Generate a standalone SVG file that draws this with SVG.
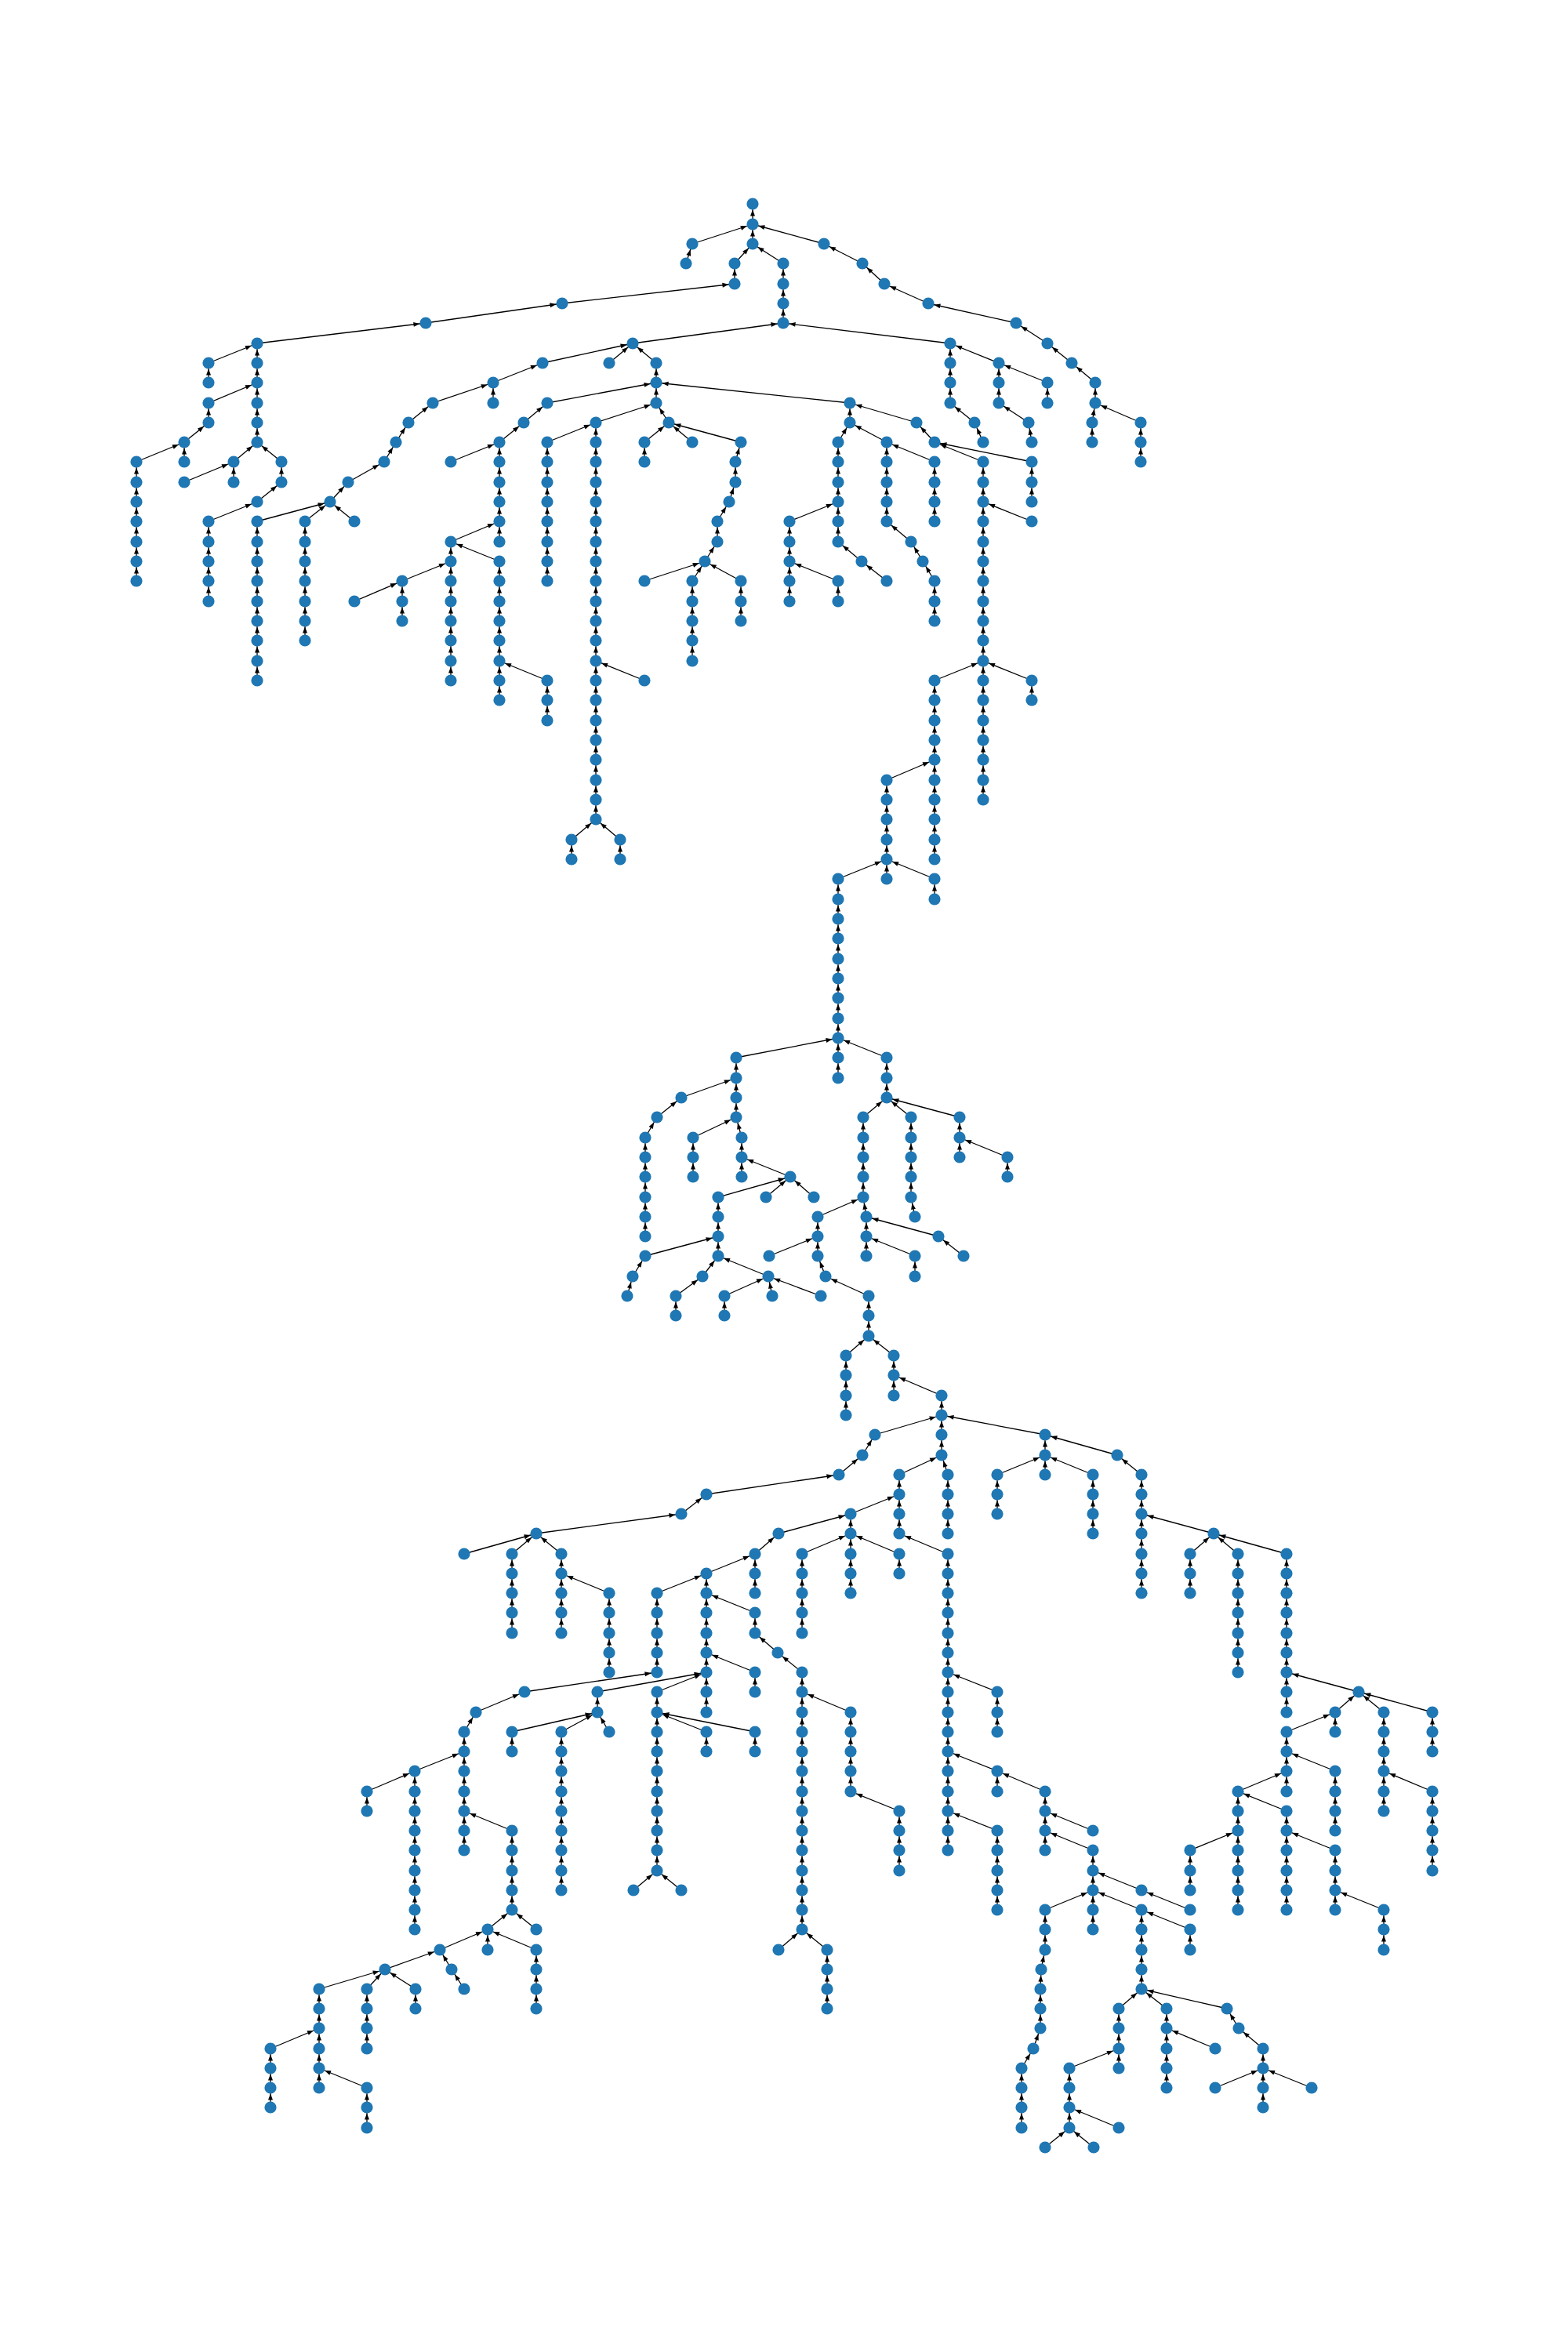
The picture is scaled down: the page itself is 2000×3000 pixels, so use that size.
<svg xmlns="http://www.w3.org/2000/svg" width="2000" height="3000" viewBox="0 0 2000 3000">
<style>
#edges line{stroke:#000;stroke-width:1.3;marker-end:url(#a)}
#nodes circle{fill:#1f77b4}
</style>
<defs>
<marker id="a" markerUnits="userSpaceOnUse" markerWidth="1" markerHeight="1" refX="0" refY="0" orient="auto" overflow="visible"><path d="M-15.6,-3 L-7.6,0 L-15.6,3 z" fill="#000"/></marker>
</defs>
<rect width="2000" height="3000" fill="#fff"/>
<g id="edges">
<line x1="960" y1="286" x2="960" y2="260"/>
<line x1="883" y1="311" x2="960" y2="286"/>
<line x1="960" y1="311" x2="960" y2="286"/>
<line x1="1051" y1="311" x2="960" y2="286"/>
<line x1="875" y1="336" x2="883" y2="311"/>
<line x1="937" y1="336" x2="960" y2="311"/>
<line x1="999" y1="336" x2="960" y2="311"/>
<line x1="937" y1="362" x2="937" y2="336"/>
<line x1="717" y1="387" x2="937" y2="362"/>
<line x1="543" y1="412" x2="717" y2="387"/>
<line x1="328" y1="438" x2="543" y2="412"/>
<line x1="999" y1="362" x2="999" y2="336"/>
<line x1="999" y1="387" x2="999" y2="362"/>
<line x1="999" y1="412" x2="999" y2="387"/>
<line x1="807" y1="438" x2="999" y2="412"/>
<line x1="1212" y1="438" x2="999" y2="412"/>
<line x1="266" y1="463" x2="328" y2="438"/>
<line x1="266" y1="488" x2="266" y2="463"/>
<line x1="328" y1="463" x2="328" y2="438"/>
<line x1="328" y1="488" x2="328" y2="463"/>
<line x1="266" y1="514" x2="328" y2="488"/>
<line x1="266" y1="539" x2="266" y2="514"/>
<line x1="235" y1="564" x2="266" y2="539"/>
<line x1="235" y1="589" x2="235" y2="564"/>
<line x1="174" y1="589" x2="235" y2="564"/>
<line x1="174" y1="615" x2="174" y2="589"/>
<line x1="174" y1="640" x2="174" y2="615"/>
<line x1="174" y1="665" x2="174" y2="640"/>
<line x1="174" y1="691" x2="174" y2="665"/>
<line x1="174" y1="716" x2="174" y2="691"/>
<line x1="174" y1="741" x2="174" y2="716"/>
<line x1="328" y1="514" x2="328" y2="488"/>
<line x1="328" y1="539" x2="328" y2="514"/>
<line x1="328" y1="564" x2="328" y2="539"/>
<line x1="298" y1="589" x2="328" y2="564"/>
<line x1="359" y1="589" x2="328" y2="564"/>
<line x1="298" y1="615" x2="298" y2="589"/>
<line x1="235" y1="615" x2="298" y2="589"/>
<line x1="359" y1="615" x2="359" y2="589"/>
<line x1="328" y1="640" x2="359" y2="615"/>
<line x1="266" y1="665" x2="328" y2="640"/>
<line x1="266" y1="691" x2="266" y2="665"/>
<line x1="266" y1="716" x2="266" y2="691"/>
<line x1="266" y1="741" x2="266" y2="716"/>
<line x1="266" y1="767" x2="266" y2="741"/>
<line x1="692" y1="463" x2="807" y2="438"/>
<line x1="629" y1="488" x2="692" y2="463"/>
<line x1="629" y1="514" x2="629" y2="488"/>
<line x1="552" y1="514" x2="629" y2="488"/>
<line x1="521" y1="539" x2="552" y2="514"/>
<line x1="505" y1="564" x2="521" y2="539"/>
<line x1="490" y1="589" x2="505" y2="564"/>
<line x1="444" y1="615" x2="490" y2="589"/>
<line x1="421" y1="640" x2="444" y2="615"/>
<line x1="328" y1="665" x2="421" y2="640"/>
<line x1="328" y1="691" x2="328" y2="665"/>
<line x1="328" y1="716" x2="328" y2="691"/>
<line x1="328" y1="741" x2="328" y2="716"/>
<line x1="328" y1="767" x2="328" y2="741"/>
<line x1="328" y1="792" x2="328" y2="767"/>
<line x1="328" y1="817" x2="328" y2="792"/>
<line x1="328" y1="843" x2="328" y2="817"/>
<line x1="328" y1="868" x2="328" y2="843"/>
<line x1="389" y1="665" x2="421" y2="640"/>
<line x1="389" y1="691" x2="389" y2="665"/>
<line x1="389" y1="716" x2="389" y2="691"/>
<line x1="389" y1="741" x2="389" y2="716"/>
<line x1="389" y1="767" x2="389" y2="741"/>
<line x1="389" y1="792" x2="389" y2="767"/>
<line x1="389" y1="817" x2="389" y2="792"/>
<line x1="452" y1="665" x2="421" y2="640"/>
<line x1="777" y1="463" x2="807" y2="438"/>
<line x1="837" y1="463" x2="807" y2="438"/>
<line x1="837" y1="488" x2="837" y2="463"/>
<line x1="698" y1="514" x2="837" y2="488"/>
<line x1="668" y1="539" x2="698" y2="514"/>
<line x1="637" y1="564" x2="668" y2="539"/>
<line x1="575" y1="589" x2="637" y2="564"/>
<line x1="637" y1="589" x2="637" y2="564"/>
<line x1="637" y1="615" x2="637" y2="589"/>
<line x1="637" y1="640" x2="637" y2="615"/>
<line x1="637" y1="665" x2="637" y2="640"/>
<line x1="637" y1="691" x2="637" y2="665"/>
<line x1="575" y1="691" x2="637" y2="665"/>
<line x1="575" y1="716" x2="575" y2="691"/>
<line x1="575" y1="741" x2="575" y2="716"/>
<line x1="575" y1="767" x2="575" y2="741"/>
<line x1="575" y1="792" x2="575" y2="767"/>
<line x1="575" y1="817" x2="575" y2="792"/>
<line x1="575" y1="843" x2="575" y2="817"/>
<line x1="575" y1="868" x2="575" y2="843"/>
<line x1="513" y1="741" x2="575" y2="716"/>
<line x1="513" y1="767" x2="513" y2="741"/>
<line x1="513" y1="792" x2="513" y2="767"/>
<line x1="452" y1="767" x2="513" y2="741"/>
<line x1="637" y1="716" x2="575" y2="691"/>
<line x1="637" y1="741" x2="637" y2="716"/>
<line x1="637" y1="767" x2="637" y2="741"/>
<line x1="637" y1="792" x2="637" y2="767"/>
<line x1="637" y1="817" x2="637" y2="792"/>
<line x1="637" y1="843" x2="637" y2="817"/>
<line x1="637" y1="868" x2="637" y2="843"/>
<line x1="637" y1="893" x2="637" y2="868"/>
<line x1="698" y1="868" x2="637" y2="843"/>
<line x1="698" y1="893" x2="698" y2="868"/>
<line x1="698" y1="919" x2="698" y2="893"/>
<line x1="837" y1="514" x2="837" y2="488"/>
<line x1="760" y1="539" x2="837" y2="514"/>
<line x1="853" y1="539" x2="837" y2="514"/>
<line x1="698" y1="564" x2="760" y2="539"/>
<line x1="698" y1="589" x2="698" y2="564"/>
<line x1="698" y1="615" x2="698" y2="589"/>
<line x1="698" y1="640" x2="698" y2="615"/>
<line x1="698" y1="665" x2="698" y2="640"/>
<line x1="698" y1="691" x2="698" y2="665"/>
<line x1="698" y1="716" x2="698" y2="691"/>
<line x1="698" y1="741" x2="698" y2="716"/>
<line x1="760" y1="564" x2="760" y2="539"/>
<line x1="760" y1="589" x2="760" y2="564"/>
<line x1="760" y1="615" x2="760" y2="589"/>
<line x1="760" y1="640" x2="760" y2="615"/>
<line x1="760" y1="665" x2="760" y2="640"/>
<line x1="760" y1="691" x2="760" y2="665"/>
<line x1="760" y1="716" x2="760" y2="691"/>
<line x1="760" y1="741" x2="760" y2="716"/>
<line x1="760" y1="767" x2="760" y2="741"/>
<line x1="760" y1="792" x2="760" y2="767"/>
<line x1="760" y1="817" x2="760" y2="792"/>
<line x1="760" y1="843" x2="760" y2="817"/>
<line x1="760" y1="868" x2="760" y2="843"/>
<line x1="760" y1="893" x2="760" y2="868"/>
<line x1="760" y1="919" x2="760" y2="893"/>
<line x1="760" y1="944" x2="760" y2="919"/>
<line x1="760" y1="969" x2="760" y2="944"/>
<line x1="760" y1="995" x2="760" y2="969"/>
<line x1="760" y1="1020" x2="760" y2="995"/>
<line x1="760" y1="1045" x2="760" y2="1020"/>
<line x1="822" y1="868" x2="760" y2="843"/>
<line x1="729" y1="1071" x2="760" y2="1045"/>
<line x1="729" y1="1096" x2="729" y2="1071"/>
<line x1="791" y1="1071" x2="760" y2="1045"/>
<line x1="791" y1="1096" x2="791" y2="1071"/>
<line x1="822" y1="564" x2="853" y2="539"/>
<line x1="822" y1="589" x2="822" y2="564"/>
<line x1="883" y1="564" x2="853" y2="539"/>
<line x1="945" y1="564" x2="853" y2="539"/>
<line x1="938" y1="589" x2="945" y2="564"/>
<line x1="938" y1="615" x2="938" y2="589"/>
<line x1="930" y1="640" x2="938" y2="615"/>
<line x1="915" y1="665" x2="930" y2="640"/>
<line x1="915" y1="691" x2="915" y2="665"/>
<line x1="899" y1="716" x2="915" y2="691"/>
<line x1="822" y1="741" x2="899" y2="716"/>
<line x1="883" y1="741" x2="899" y2="716"/>
<line x1="883" y1="767" x2="883" y2="741"/>
<line x1="883" y1="792" x2="883" y2="767"/>
<line x1="883" y1="817" x2="883" y2="792"/>
<line x1="883" y1="843" x2="883" y2="817"/>
<line x1="945" y1="741" x2="899" y2="716"/>
<line x1="945" y1="767" x2="945" y2="741"/>
<line x1="945" y1="792" x2="945" y2="767"/>
<line x1="1084" y1="514" x2="837" y2="488"/>
<line x1="1084" y1="539" x2="1084" y2="514"/>
<line x1="1169" y1="539" x2="1084" y2="514"/>
<line x1="1069" y1="564" x2="1084" y2="539"/>
<line x1="1131" y1="564" x2="1084" y2="539"/>
<line x1="1069" y1="589" x2="1069" y2="564"/>
<line x1="1069" y1="615" x2="1069" y2="589"/>
<line x1="1069" y1="640" x2="1069" y2="615"/>
<line x1="1069" y1="665" x2="1069" y2="640"/>
<line x1="1069" y1="691" x2="1069" y2="665"/>
<line x1="1099" y1="716" x2="1069" y2="691"/>
<line x1="1131" y1="741" x2="1099" y2="716"/>
<line x1="1007" y1="665" x2="1069" y2="640"/>
<line x1="1007" y1="691" x2="1007" y2="665"/>
<line x1="1007" y1="716" x2="1007" y2="691"/>
<line x1="1007" y1="741" x2="1007" y2="716"/>
<line x1="1007" y1="767" x2="1007" y2="741"/>
<line x1="1069" y1="741" x2="1007" y2="716"/>
<line x1="1069" y1="767" x2="1069" y2="741"/>
<line x1="1131" y1="589" x2="1131" y2="564"/>
<line x1="1131" y1="615" x2="1131" y2="589"/>
<line x1="1131" y1="640" x2="1131" y2="615"/>
<line x1="1131" y1="665" x2="1131" y2="640"/>
<line x1="1162" y1="691" x2="1131" y2="665"/>
<line x1="1177" y1="716" x2="1162" y2="691"/>
<line x1="1192" y1="741" x2="1177" y2="716"/>
<line x1="1192" y1="767" x2="1192" y2="741"/>
<line x1="1192" y1="792" x2="1192" y2="767"/>
<line x1="1192" y1="589" x2="1131" y2="564"/>
<line x1="1192" y1="615" x2="1192" y2="589"/>
<line x1="1192" y1="640" x2="1192" y2="615"/>
<line x1="1192" y1="665" x2="1192" y2="640"/>
<line x1="1192" y1="564" x2="1169" y2="539"/>
<line x1="1254" y1="589" x2="1192" y2="564"/>
<line x1="1316" y1="589" x2="1192" y2="564"/>
<line x1="1316" y1="615" x2="1316" y2="589"/>
<line x1="1316" y1="640" x2="1316" y2="615"/>
<line x1="1254" y1="615" x2="1254" y2="589"/>
<line x1="1254" y1="640" x2="1254" y2="615"/>
<line x1="1316" y1="665" x2="1254" y2="640"/>
<line x1="1254" y1="665" x2="1254" y2="640"/>
<line x1="1254" y1="691" x2="1254" y2="665"/>
<line x1="1254" y1="716" x2="1254" y2="691"/>
<line x1="1254" y1="741" x2="1254" y2="716"/>
<line x1="1254" y1="767" x2="1254" y2="741"/>
<line x1="1254" y1="792" x2="1254" y2="767"/>
<line x1="1254" y1="817" x2="1254" y2="792"/>
<line x1="1254" y1="843" x2="1254" y2="817"/>
<line x1="1192" y1="868" x2="1254" y2="843"/>
<line x1="1254" y1="868" x2="1254" y2="843"/>
<line x1="1316" y1="868" x2="1254" y2="843"/>
<line x1="1316" y1="893" x2="1316" y2="868"/>
<line x1="1254" y1="893" x2="1254" y2="868"/>
<line x1="1254" y1="919" x2="1254" y2="893"/>
<line x1="1254" y1="944" x2="1254" y2="919"/>
<line x1="1254" y1="969" x2="1254" y2="944"/>
<line x1="1254" y1="995" x2="1254" y2="969"/>
<line x1="1254" y1="1020" x2="1254" y2="995"/>
<line x1="1192" y1="893" x2="1192" y2="868"/>
<line x1="1192" y1="919" x2="1192" y2="893"/>
<line x1="1192" y1="944" x2="1192" y2="919"/>
<line x1="1192" y1="969" x2="1192" y2="944"/>
<line x1="1192" y1="995" x2="1192" y2="969"/>
<line x1="1192" y1="1020" x2="1192" y2="995"/>
<line x1="1192" y1="1045" x2="1192" y2="1020"/>
<line x1="1192" y1="1071" x2="1192" y2="1045"/>
<line x1="1192" y1="1096" x2="1192" y2="1071"/>
<line x1="1131" y1="995" x2="1192" y2="969"/>
<line x1="1131" y1="1020" x2="1131" y2="995"/>
<line x1="1131" y1="1045" x2="1131" y2="1020"/>
<line x1="1131" y1="1071" x2="1131" y2="1045"/>
<line x1="1131" y1="1096" x2="1131" y2="1071"/>
<line x1="1069" y1="1121" x2="1131" y2="1096"/>
<line x1="1131" y1="1121" x2="1131" y2="1096"/>
<line x1="1192" y1="1121" x2="1131" y2="1096"/>
<line x1="1192" y1="1147" x2="1192" y2="1121"/>
<line x1="1069" y1="1147" x2="1069" y2="1121"/>
<line x1="1069" y1="1172" x2="1069" y2="1147"/>
<line x1="1069" y1="1197" x2="1069" y2="1172"/>
<line x1="1069" y1="1223" x2="1069" y2="1197"/>
<line x1="1069" y1="1248" x2="1069" y2="1223"/>
<line x1="1069" y1="1273" x2="1069" y2="1248"/>
<line x1="1069" y1="1299" x2="1069" y2="1273"/>
<line x1="1069" y1="1324" x2="1069" y2="1299"/>
<line x1="1212" y1="463" x2="1212" y2="438"/>
<line x1="1212" y1="488" x2="1212" y2="463"/>
<line x1="1212" y1="514" x2="1212" y2="488"/>
<line x1="1243" y1="539" x2="1212" y2="514"/>
<line x1="1254" y1="564" x2="1243" y2="539"/>
<line x1="1274" y1="463" x2="1212" y2="438"/>
<line x1="1274" y1="488" x2="1274" y2="463"/>
<line x1="1274" y1="514" x2="1274" y2="488"/>
<line x1="1312" y1="539" x2="1274" y2="514"/>
<line x1="1316" y1="564" x2="1312" y2="539"/>
<line x1="1336" y1="488" x2="1274" y2="463"/>
<line x1="1336" y1="514" x2="1336" y2="488"/>
<line x1="1100" y1="336" x2="1051" y2="311"/>
<line x1="1128" y1="362" x2="1100" y2="336"/>
<line x1="1184" y1="387" x2="1128" y2="362"/>
<line x1="1296" y1="412" x2="1184" y2="387"/>
<line x1="1336" y1="438" x2="1296" y2="412"/>
<line x1="1367" y1="463" x2="1336" y2="438"/>
<line x1="1397" y1="488" x2="1367" y2="463"/>
<line x1="1397" y1="514" x2="1397" y2="488"/>
<line x1="1393" y1="539" x2="1397" y2="514"/>
<line x1="1393" y1="564" x2="1393" y2="539"/>
<line x1="1455" y1="539" x2="1397" y2="514"/>
<line x1="1455" y1="564" x2="1455" y2="539"/>
<line x1="1455" y1="589" x2="1455" y2="564"/>
<line x1="939" y1="1349" x2="1069" y2="1324"/>
<line x1="1069" y1="1349" x2="1069" y2="1324"/>
<line x1="1069" y1="1375" x2="1069" y2="1349"/>
<line x1="1131" y1="1349" x2="1069" y2="1324"/>
<line x1="1131" y1="1375" x2="1131" y2="1349"/>
<line x1="1131" y1="1400" x2="1131" y2="1375"/>
<line x1="939" y1="1375" x2="939" y2="1349"/>
<line x1="939" y1="1400" x2="939" y2="1375"/>
<line x1="939" y1="1425" x2="939" y2="1400"/>
<line x1="869" y1="1400" x2="939" y2="1375"/>
<line x1="838" y1="1425" x2="869" y2="1400"/>
<line x1="823" y1="1451" x2="838" y2="1425"/>
<line x1="823" y1="1476" x2="823" y2="1451"/>
<line x1="823" y1="1501" x2="823" y2="1476"/>
<line x1="823" y1="1527" x2="823" y2="1501"/>
<line x1="823" y1="1552" x2="823" y2="1527"/>
<line x1="823" y1="1577" x2="823" y2="1552"/>
<line x1="884" y1="1451" x2="939" y2="1425"/>
<line x1="884" y1="1476" x2="884" y2="1451"/>
<line x1="884" y1="1501" x2="884" y2="1476"/>
<line x1="946" y1="1451" x2="939" y2="1425"/>
<line x1="946" y1="1476" x2="946" y2="1451"/>
<line x1="946" y1="1501" x2="946" y2="1476"/>
<line x1="1008" y1="1501" x2="946" y2="1476"/>
<line x1="916" y1="1527" x2="1008" y2="1501"/>
<line x1="916" y1="1552" x2="916" y2="1527"/>
<line x1="916" y1="1577" x2="916" y2="1552"/>
<line x1="916" y1="1602" x2="916" y2="1577"/>
<line x1="823" y1="1602" x2="916" y2="1577"/>
<line x1="807" y1="1628" x2="823" y2="1602"/>
<line x1="800" y1="1653" x2="807" y2="1628"/>
<line x1="896" y1="1628" x2="916" y2="1602"/>
<line x1="862" y1="1653" x2="896" y2="1628"/>
<line x1="862" y1="1678" x2="862" y2="1653"/>
<line x1="980" y1="1628" x2="916" y2="1602"/>
<line x1="924" y1="1653" x2="980" y2="1628"/>
<line x1="924" y1="1678" x2="924" y2="1653"/>
<line x1="985" y1="1653" x2="980" y2="1628"/>
<line x1="1047" y1="1653" x2="980" y2="1628"/>
<line x1="977" y1="1527" x2="1008" y2="1501"/>
<line x1="1038" y1="1527" x2="1008" y2="1501"/>
<line x1="1101" y1="1425" x2="1131" y2="1400"/>
<line x1="1101" y1="1451" x2="1101" y2="1425"/>
<line x1="1101" y1="1476" x2="1101" y2="1451"/>
<line x1="1101" y1="1501" x2="1101" y2="1476"/>
<line x1="1101" y1="1527" x2="1101" y2="1501"/>
<line x1="1162" y1="1425" x2="1131" y2="1400"/>
<line x1="1162" y1="1451" x2="1162" y2="1425"/>
<line x1="1162" y1="1476" x2="1162" y2="1451"/>
<line x1="1162" y1="1501" x2="1162" y2="1476"/>
<line x1="1162" y1="1527" x2="1162" y2="1501"/>
<line x1="1167" y1="1552" x2="1162" y2="1527"/>
<line x1="1224" y1="1425" x2="1131" y2="1400"/>
<line x1="1224" y1="1451" x2="1224" y2="1425"/>
<line x1="1224" y1="1476" x2="1224" y2="1451"/>
<line x1="1285" y1="1476" x2="1224" y2="1451"/>
<line x1="1285" y1="1501" x2="1285" y2="1476"/>
<line x1="1105" y1="1552" x2="1101" y2="1527"/>
<line x1="1105" y1="1577" x2="1105" y2="1552"/>
<line x1="1105" y1="1602" x2="1105" y2="1577"/>
<line x1="1167" y1="1602" x2="1105" y2="1577"/>
<line x1="1167" y1="1628" x2="1167" y2="1602"/>
<line x1="1197" y1="1577" x2="1105" y2="1552"/>
<line x1="1229" y1="1602" x2="1197" y2="1577"/>
<line x1="1043" y1="1552" x2="1101" y2="1527"/>
<line x1="1043" y1="1577" x2="1043" y2="1552"/>
<line x1="1043" y1="1602" x2="1043" y2="1577"/>
<line x1="981" y1="1602" x2="1043" y2="1577"/>
<line x1="1053" y1="1628" x2="1043" y2="1602"/>
<line x1="1108" y1="1653" x2="1053" y2="1628"/>
<line x1="1108" y1="1678" x2="1108" y2="1653"/>
<line x1="1108" y1="1704" x2="1108" y2="1678"/>
<line x1="1079" y1="1729" x2="1108" y2="1704"/>
<line x1="1079" y1="1754" x2="1079" y2="1729"/>
<line x1="1079" y1="1780" x2="1079" y2="1754"/>
<line x1="1079" y1="1805" x2="1079" y2="1780"/>
<line x1="1140" y1="1729" x2="1108" y2="1704"/>
<line x1="1140" y1="1754" x2="1140" y2="1729"/>
<line x1="1140" y1="1780" x2="1140" y2="1754"/>
<line x1="1201" y1="1780" x2="1140" y2="1754"/>
<line x1="1201" y1="1805" x2="1201" y2="1780"/>
<line x1="1116" y1="1830" x2="1201" y2="1805"/>
<line x1="1100" y1="1856" x2="1116" y2="1830"/>
<line x1="1070" y1="1881" x2="1100" y2="1856"/>
<line x1="901" y1="1906" x2="1070" y2="1881"/>
<line x1="869" y1="1931" x2="901" y2="1906"/>
<line x1="684" y1="1956" x2="869" y2="1931"/>
<line x1="592" y1="1982" x2="684" y2="1956"/>
<line x1="653" y1="1982" x2="684" y2="1956"/>
<line x1="653" y1="2007" x2="653" y2="1982"/>
<line x1="653" y1="2032" x2="653" y2="2007"/>
<line x1="653" y1="2057" x2="653" y2="2032"/>
<line x1="653" y1="2083" x2="653" y2="2057"/>
<line x1="716" y1="1982" x2="684" y2="1956"/>
<line x1="716" y1="2007" x2="716" y2="1982"/>
<line x1="716" y1="2032" x2="716" y2="2007"/>
<line x1="716" y1="2057" x2="716" y2="2032"/>
<line x1="716" y1="2083" x2="716" y2="2057"/>
<line x1="777" y1="2032" x2="716" y2="2007"/>
<line x1="777" y1="2057" x2="777" y2="2032"/>
<line x1="777" y1="2083" x2="777" y2="2057"/>
<line x1="777" y1="2108" x2="777" y2="2083"/>
<line x1="777" y1="2133" x2="777" y2="2108"/>
<line x1="1201" y1="1830" x2="1201" y2="1805"/>
<line x1="1201" y1="1856" x2="1201" y2="1830"/>
<line x1="1147" y1="1881" x2="1201" y2="1856"/>
<line x1="1147" y1="1906" x2="1147" y2="1881"/>
<line x1="1147" y1="1931" x2="1147" y2="1906"/>
<line x1="1147" y1="1956" x2="1147" y2="1931"/>
<line x1="1209" y1="1881" x2="1201" y2="1856"/>
<line x1="1209" y1="1906" x2="1209" y2="1881"/>
<line x1="1209" y1="1931" x2="1209" y2="1906"/>
<line x1="1209" y1="1956" x2="1209" y2="1931"/>
<line x1="1085" y1="1931" x2="1147" y2="1906"/>
<line x1="1085" y1="1956" x2="1085" y2="1931"/>
<line x1="1085" y1="1982" x2="1085" y2="1956"/>
<line x1="1085" y1="2007" x2="1085" y2="1982"/>
<line x1="1085" y1="2032" x2="1085" y2="2007"/>
<line x1="993" y1="1956" x2="1085" y2="1931"/>
<line x1="1023" y1="1982" x2="1085" y2="1956"/>
<line x1="1023" y1="2007" x2="1023" y2="1982"/>
<line x1="1023" y1="2032" x2="1023" y2="2007"/>
<line x1="1023" y1="2057" x2="1023" y2="2032"/>
<line x1="1023" y1="2083" x2="1023" y2="2057"/>
<line x1="1147" y1="1982" x2="1085" y2="1956"/>
<line x1="1147" y1="2007" x2="1147" y2="1982"/>
<line x1="963" y1="1982" x2="993" y2="1956"/>
<line x1="963" y1="2007" x2="963" y2="1982"/>
<line x1="963" y1="2032" x2="963" y2="2007"/>
<line x1="901" y1="2007" x2="963" y2="1982"/>
<line x1="901" y1="2032" x2="901" y2="2007"/>
<line x1="901" y1="2057" x2="901" y2="2032"/>
<line x1="901" y1="2083" x2="901" y2="2057"/>
<line x1="901" y1="2108" x2="901" y2="2083"/>
<line x1="901" y1="2133" x2="901" y2="2108"/>
<line x1="901" y1="2158" x2="901" y2="2133"/>
<line x1="901" y1="2184" x2="901" y2="2158"/>
<line x1="838" y1="2032" x2="901" y2="2007"/>
<line x1="838" y1="2057" x2="838" y2="2032"/>
<line x1="838" y1="2083" x2="838" y2="2057"/>
<line x1="838" y1="2108" x2="838" y2="2083"/>
<line x1="838" y1="2133" x2="838" y2="2108"/>
<line x1="963" y1="2057" x2="901" y2="2032"/>
<line x1="963" y1="2083" x2="963" y2="2057"/>
<line x1="992" y1="2108" x2="963" y2="2083"/>
<line x1="1023" y1="2133" x2="992" y2="2108"/>
<line x1="1023" y1="2158" x2="1023" y2="2133"/>
<line x1="1023" y1="2184" x2="1023" y2="2158"/>
<line x1="1023" y1="2209" x2="1023" y2="2184"/>
<line x1="1023" y1="2234" x2="1023" y2="2209"/>
<line x1="1023" y1="2259" x2="1023" y2="2234"/>
<line x1="1023" y1="2285" x2="1023" y2="2259"/>
<line x1="1023" y1="2310" x2="1023" y2="2285"/>
<line x1="1023" y1="2335" x2="1023" y2="2310"/>
<line x1="1023" y1="2360" x2="1023" y2="2335"/>
<line x1="1023" y1="2386" x2="1023" y2="2360"/>
<line x1="1023" y1="2411" x2="1023" y2="2386"/>
<line x1="1023" y1="2436" x2="1023" y2="2411"/>
<line x1="1023" y1="2461" x2="1023" y2="2436"/>
<line x1="963" y1="2133" x2="901" y2="2108"/>
<line x1="963" y1="2158" x2="963" y2="2133"/>
<line x1="838" y1="2158" x2="901" y2="2133"/>
<line x1="838" y1="2184" x2="838" y2="2158"/>
<line x1="838" y1="2209" x2="838" y2="2184"/>
<line x1="838" y1="2234" x2="838" y2="2209"/>
<line x1="838" y1="2259" x2="838" y2="2234"/>
<line x1="838" y1="2285" x2="838" y2="2259"/>
<line x1="838" y1="2310" x2="838" y2="2285"/>
<line x1="838" y1="2335" x2="838" y2="2310"/>
<line x1="838" y1="2360" x2="838" y2="2335"/>
<line x1="838" y1="2386" x2="838" y2="2360"/>
<line x1="762" y1="2158" x2="901" y2="2133"/>
<line x1="762" y1="2184" x2="762" y2="2158"/>
<line x1="901" y1="2209" x2="838" y2="2184"/>
<line x1="901" y1="2234" x2="901" y2="2209"/>
<line x1="963" y1="2209" x2="838" y2="2184"/>
<line x1="963" y1="2234" x2="963" y2="2209"/>
<line x1="669" y1="2158" x2="838" y2="2133"/>
<line x1="607" y1="2184" x2="669" y2="2158"/>
<line x1="592" y1="2209" x2="607" y2="2184"/>
<line x1="592" y1="2234" x2="592" y2="2209"/>
<line x1="592" y1="2259" x2="592" y2="2234"/>
<line x1="592" y1="2285" x2="592" y2="2259"/>
<line x1="592" y1="2310" x2="592" y2="2285"/>
<line x1="592" y1="2335" x2="592" y2="2310"/>
<line x1="592" y1="2360" x2="592" y2="2335"/>
<line x1="529" y1="2259" x2="592" y2="2234"/>
<line x1="529" y1="2285" x2="529" y2="2259"/>
<line x1="529" y1="2310" x2="529" y2="2285"/>
<line x1="529" y1="2335" x2="529" y2="2310"/>
<line x1="529" y1="2360" x2="529" y2="2335"/>
<line x1="529" y1="2386" x2="529" y2="2360"/>
<line x1="529" y1="2411" x2="529" y2="2386"/>
<line x1="529" y1="2436" x2="529" y2="2411"/>
<line x1="529" y1="2461" x2="529" y2="2436"/>
<line x1="468" y1="2285" x2="529" y2="2259"/>
<line x1="468" y1="2310" x2="468" y2="2285"/>
<line x1="653" y1="2209" x2="762" y2="2184"/>
<line x1="653" y1="2234" x2="653" y2="2209"/>
<line x1="716" y1="2209" x2="762" y2="2184"/>
<line x1="716" y1="2234" x2="716" y2="2209"/>
<line x1="716" y1="2259" x2="716" y2="2234"/>
<line x1="716" y1="2285" x2="716" y2="2259"/>
<line x1="716" y1="2310" x2="716" y2="2285"/>
<line x1="716" y1="2335" x2="716" y2="2310"/>
<line x1="716" y1="2360" x2="716" y2="2335"/>
<line x1="716" y1="2386" x2="716" y2="2360"/>
<line x1="716" y1="2411" x2="716" y2="2386"/>
<line x1="777" y1="2209" x2="762" y2="2184"/>
<line x1="653" y1="2335" x2="592" y2="2310"/>
<line x1="653" y1="2360" x2="653" y2="2335"/>
<line x1="653" y1="2386" x2="653" y2="2360"/>
<line x1="653" y1="2411" x2="653" y2="2386"/>
<line x1="653" y1="2436" x2="653" y2="2411"/>
<line x1="622" y1="2461" x2="653" y2="2436"/>
<line x1="684" y1="2461" x2="653" y2="2436"/>
<line x1="561" y1="2487" x2="622" y2="2461"/>
<line x1="622" y1="2487" x2="622" y2="2461"/>
<line x1="684" y1="2487" x2="622" y2="2461"/>
<line x1="684" y1="2512" x2="684" y2="2487"/>
<line x1="684" y1="2537" x2="684" y2="2512"/>
<line x1="684" y1="2562" x2="684" y2="2537"/>
<line x1="491" y1="2512" x2="561" y2="2487"/>
<line x1="576" y1="2512" x2="561" y2="2487"/>
<line x1="592" y1="2537" x2="576" y2="2512"/>
<line x1="407" y1="2537" x2="491" y2="2512"/>
<line x1="407" y1="2562" x2="407" y2="2537"/>
<line x1="407" y1="2587" x2="407" y2="2562"/>
<line x1="407" y1="2613" x2="407" y2="2587"/>
<line x1="407" y1="2638" x2="407" y2="2613"/>
<line x1="407" y1="2663" x2="407" y2="2638"/>
<line x1="468" y1="2537" x2="491" y2="2512"/>
<line x1="468" y1="2562" x2="468" y2="2537"/>
<line x1="468" y1="2587" x2="468" y2="2562"/>
<line x1="468" y1="2613" x2="468" y2="2587"/>
<line x1="530" y1="2537" x2="491" y2="2512"/>
<line x1="530" y1="2562" x2="530" y2="2537"/>
<line x1="345" y1="2613" x2="407" y2="2587"/>
<line x1="345" y1="2638" x2="345" y2="2613"/>
<line x1="345" y1="2663" x2="345" y2="2638"/>
<line x1="345" y1="2688" x2="345" y2="2663"/>
<line x1="468" y1="2663" x2="407" y2="2638"/>
<line x1="468" y1="2688" x2="468" y2="2663"/>
<line x1="468" y1="2714" x2="468" y2="2688"/>
<line x1="808" y1="2411" x2="838" y2="2386"/>
<line x1="869" y1="2411" x2="838" y2="2386"/>
<line x1="993" y1="2487" x2="1023" y2="2461"/>
<line x1="1055" y1="2487" x2="1023" y2="2461"/>
<line x1="1055" y1="2512" x2="1055" y2="2487"/>
<line x1="1055" y1="2537" x2="1055" y2="2512"/>
<line x1="1055" y1="2562" x2="1055" y2="2537"/>
<line x1="1085" y1="2184" x2="1023" y2="2158"/>
<line x1="1085" y1="2209" x2="1085" y2="2184"/>
<line x1="1085" y1="2234" x2="1085" y2="2209"/>
<line x1="1085" y1="2259" x2="1085" y2="2234"/>
<line x1="1085" y1="2285" x2="1085" y2="2259"/>
<line x1="1147" y1="2310" x2="1085" y2="2285"/>
<line x1="1147" y1="2335" x2="1147" y2="2310"/>
<line x1="1147" y1="2360" x2="1147" y2="2335"/>
<line x1="1147" y1="2386" x2="1147" y2="2360"/>
<line x1="1209" y1="1982" x2="1147" y2="1956"/>
<line x1="1209" y1="2007" x2="1209" y2="1982"/>
<line x1="1209" y1="2032" x2="1209" y2="2007"/>
<line x1="1209" y1="2057" x2="1209" y2="2032"/>
<line x1="1209" y1="2083" x2="1209" y2="2057"/>
<line x1="1209" y1="2108" x2="1209" y2="2083"/>
<line x1="1209" y1="2133" x2="1209" y2="2108"/>
<line x1="1209" y1="2158" x2="1209" y2="2133"/>
<line x1="1209" y1="2184" x2="1209" y2="2158"/>
<line x1="1209" y1="2209" x2="1209" y2="2184"/>
<line x1="1209" y1="2234" x2="1209" y2="2209"/>
<line x1="1209" y1="2259" x2="1209" y2="2234"/>
<line x1="1209" y1="2285" x2="1209" y2="2259"/>
<line x1="1209" y1="2310" x2="1209" y2="2285"/>
<line x1="1209" y1="2335" x2="1209" y2="2310"/>
<line x1="1209" y1="2360" x2="1209" y2="2335"/>
<line x1="1272" y1="2158" x2="1209" y2="2133"/>
<line x1="1272" y1="2184" x2="1272" y2="2158"/>
<line x1="1272" y1="2209" x2="1272" y2="2184"/>
<line x1="1272" y1="2259" x2="1209" y2="2234"/>
<line x1="1272" y1="2285" x2="1272" y2="2259"/>
<line x1="1333" y1="2285" x2="1272" y2="2259"/>
<line x1="1333" y1="2310" x2="1333" y2="2285"/>
<line x1="1333" y1="2335" x2="1333" y2="2310"/>
<line x1="1333" y1="2360" x2="1333" y2="2335"/>
<line x1="1272" y1="2335" x2="1209" y2="2310"/>
<line x1="1272" y1="2360" x2="1272" y2="2335"/>
<line x1="1272" y1="2386" x2="1272" y2="2360"/>
<line x1="1272" y1="2411" x2="1272" y2="2386"/>
<line x1="1272" y1="2436" x2="1272" y2="2411"/>
<line x1="1333" y1="1830" x2="1201" y2="1805"/>
<line x1="1333" y1="1856" x2="1333" y2="1830"/>
<line x1="1333" y1="1881" x2="1333" y2="1856"/>
<line x1="1272" y1="1881" x2="1333" y2="1856"/>
<line x1="1272" y1="1906" x2="1272" y2="1881"/>
<line x1="1272" y1="1931" x2="1272" y2="1906"/>
<line x1="1425" y1="1856" x2="1333" y2="1830"/>
<line x1="1394" y1="1881" x2="1333" y2="1856"/>
<line x1="1394" y1="1906" x2="1394" y2="1881"/>
<line x1="1394" y1="1931" x2="1394" y2="1906"/>
<line x1="1394" y1="1956" x2="1394" y2="1931"/>
<line x1="1456" y1="1881" x2="1425" y2="1856"/>
<line x1="1456" y1="1906" x2="1456" y2="1881"/>
<line x1="1456" y1="1931" x2="1456" y2="1906"/>
<line x1="1456" y1="1956" x2="1456" y2="1931"/>
<line x1="1456" y1="1982" x2="1456" y2="1956"/>
<line x1="1456" y1="2007" x2="1456" y2="1982"/>
<line x1="1456" y1="2032" x2="1456" y2="2007"/>
<line x1="1548" y1="1956" x2="1456" y2="1931"/>
<line x1="1518" y1="1982" x2="1548" y2="1956"/>
<line x1="1518" y1="2007" x2="1518" y2="1982"/>
<line x1="1518" y1="2032" x2="1518" y2="2007"/>
<line x1="1579" y1="1982" x2="1548" y2="1956"/>
<line x1="1579" y1="2007" x2="1579" y2="1982"/>
<line x1="1579" y1="2032" x2="1579" y2="2007"/>
<line x1="1579" y1="2057" x2="1579" y2="2032"/>
<line x1="1579" y1="2083" x2="1579" y2="2057"/>
<line x1="1579" y1="2108" x2="1579" y2="2083"/>
<line x1="1579" y1="2133" x2="1579" y2="2108"/>
<line x1="1641" y1="1982" x2="1548" y2="1956"/>
<line x1="1641" y1="2007" x2="1641" y2="1982"/>
<line x1="1641" y1="2032" x2="1641" y2="2007"/>
<line x1="1641" y1="2057" x2="1641" y2="2032"/>
<line x1="1641" y1="2083" x2="1641" y2="2057"/>
<line x1="1641" y1="2108" x2="1641" y2="2083"/>
<line x1="1641" y1="2133" x2="1641" y2="2108"/>
<line x1="1641" y1="2158" x2="1641" y2="2133"/>
<line x1="1641" y1="2184" x2="1641" y2="2158"/>
<line x1="1733" y1="2158" x2="1641" y2="2133"/>
<line x1="1703" y1="2184" x2="1733" y2="2158"/>
<line x1="1703" y1="2209" x2="1703" y2="2184"/>
<line x1="1765" y1="2184" x2="1733" y2="2158"/>
<line x1="1765" y1="2209" x2="1765" y2="2184"/>
<line x1="1765" y1="2234" x2="1765" y2="2209"/>
<line x1="1765" y1="2259" x2="1765" y2="2234"/>
<line x1="1765" y1="2285" x2="1765" y2="2259"/>
<line x1="1765" y1="2310" x2="1765" y2="2285"/>
<line x1="1827" y1="2184" x2="1733" y2="2158"/>
<line x1="1827" y1="2209" x2="1827" y2="2184"/>
<line x1="1827" y1="2234" x2="1827" y2="2209"/>
<line x1="1641" y1="2209" x2="1703" y2="2184"/>
<line x1="1641" y1="2234" x2="1641" y2="2209"/>
<line x1="1641" y1="2259" x2="1641" y2="2234"/>
<line x1="1641" y1="2285" x2="1641" y2="2259"/>
<line x1="1703" y1="2259" x2="1641" y2="2234"/>
<line x1="1703" y1="2285" x2="1703" y2="2259"/>
<line x1="1703" y1="2310" x2="1703" y2="2285"/>
<line x1="1703" y1="2335" x2="1703" y2="2310"/>
<line x1="1579" y1="2285" x2="1641" y2="2259"/>
<line x1="1579" y1="2310" x2="1579" y2="2285"/>
<line x1="1579" y1="2335" x2="1579" y2="2310"/>
<line x1="1579" y1="2360" x2="1579" y2="2335"/>
<line x1="1579" y1="2386" x2="1579" y2="2360"/>
<line x1="1579" y1="2411" x2="1579" y2="2386"/>
<line x1="1579" y1="2436" x2="1579" y2="2411"/>
<line x1="1827" y1="2285" x2="1765" y2="2259"/>
<line x1="1827" y1="2310" x2="1827" y2="2285"/>
<line x1="1827" y1="2335" x2="1827" y2="2310"/>
<line x1="1827" y1="2360" x2="1827" y2="2335"/>
<line x1="1827" y1="2386" x2="1827" y2="2360"/>
<line x1="1641" y1="2310" x2="1579" y2="2285"/>
<line x1="1641" y1="2335" x2="1641" y2="2310"/>
<line x1="1641" y1="2360" x2="1641" y2="2335"/>
<line x1="1641" y1="2386" x2="1641" y2="2360"/>
<line x1="1641" y1="2411" x2="1641" y2="2386"/>
<line x1="1641" y1="2436" x2="1641" y2="2411"/>
<line x1="1703" y1="2360" x2="1641" y2="2335"/>
<line x1="1703" y1="2386" x2="1703" y2="2360"/>
<line x1="1703" y1="2411" x2="1703" y2="2386"/>
<line x1="1703" y1="2436" x2="1703" y2="2411"/>
<line x1="1765" y1="2436" x2="1703" y2="2411"/>
<line x1="1765" y1="2461" x2="1765" y2="2436"/>
<line x1="1765" y1="2487" x2="1765" y2="2461"/>
<line x1="1518" y1="2360" x2="1579" y2="2335"/>
<line x1="1518" y1="2386" x2="1518" y2="2360"/>
<line x1="1518" y1="2411" x2="1518" y2="2386"/>
<line x1="1394" y1="2335" x2="1333" y2="2310"/>
<line x1="1394" y1="2360" x2="1333" y2="2335"/>
<line x1="1394" y1="2386" x2="1394" y2="2360"/>
<line x1="1394" y1="2411" x2="1394" y2="2386"/>
<line x1="1394" y1="2436" x2="1394" y2="2411"/>
<line x1="1394" y1="2461" x2="1394" y2="2436"/>
<line x1="1456" y1="2411" x2="1394" y2="2386"/>
<line x1="1518" y1="2436" x2="1456" y2="2411"/>
<line x1="1456" y1="2436" x2="1394" y2="2411"/>
<line x1="1456" y1="2461" x2="1456" y2="2436"/>
<line x1="1456" y1="2487" x2="1456" y2="2461"/>
<line x1="1456" y1="2512" x2="1456" y2="2487"/>
<line x1="1456" y1="2537" x2="1456" y2="2512"/>
<line x1="1518" y1="2461" x2="1456" y2="2436"/>
<line x1="1518" y1="2487" x2="1518" y2="2461"/>
<line x1="1333" y1="2436" x2="1394" y2="2411"/>
<line x1="1333" y1="2461" x2="1333" y2="2436"/>
<line x1="1333" y1="2487" x2="1333" y2="2461"/>
<line x1="1328" y1="2512" x2="1333" y2="2487"/>
<line x1="1327" y1="2537" x2="1328" y2="2512"/>
<line x1="1327" y1="2562" x2="1327" y2="2537"/>
<line x1="1327" y1="2587" x2="1327" y2="2562"/>
<line x1="1318" y1="2613" x2="1327" y2="2587"/>
<line x1="1303" y1="2638" x2="1318" y2="2613"/>
<line x1="1303" y1="2663" x2="1303" y2="2638"/>
<line x1="1303" y1="2688" x2="1303" y2="2663"/>
<line x1="1303" y1="2714" x2="1303" y2="2688"/>
<line x1="1427" y1="2562" x2="1456" y2="2537"/>
<line x1="1427" y1="2587" x2="1427" y2="2562"/>
<line x1="1427" y1="2613" x2="1427" y2="2587"/>
<line x1="1427" y1="2638" x2="1427" y2="2613"/>
<line x1="1364" y1="2638" x2="1427" y2="2613"/>
<line x1="1364" y1="2663" x2="1364" y2="2638"/>
<line x1="1364" y1="2688" x2="1364" y2="2663"/>
<line x1="1364" y1="2714" x2="1364" y2="2688"/>
<line x1="1427" y1="2714" x2="1364" y2="2688"/>
<line x1="1395" y1="2739" x2="1364" y2="2714"/>
<line x1="1333" y1="2739" x2="1364" y2="2714"/>
<line x1="1488" y1="2562" x2="1456" y2="2537"/>
<line x1="1488" y1="2587" x2="1488" y2="2562"/>
<line x1="1488" y1="2613" x2="1488" y2="2587"/>
<line x1="1488" y1="2638" x2="1488" y2="2613"/>
<line x1="1488" y1="2663" x2="1488" y2="2638"/>
<line x1="1550" y1="2613" x2="1488" y2="2587"/>
<line x1="1565" y1="2562" x2="1456" y2="2537"/>
<line x1="1580" y1="2587" x2="1565" y2="2562"/>
<line x1="1611" y1="2613" x2="1580" y2="2587"/>
<line x1="1611" y1="2638" x2="1611" y2="2613"/>
<line x1="1611" y1="2663" x2="1611" y2="2638"/>
<line x1="1611" y1="2688" x2="1611" y2="2663"/>
<line x1="1550" y1="2663" x2="1611" y2="2638"/>
<line x1="1673" y1="2663" x2="1611" y2="2638"/>
</g>
<g id="nodes">
<g id="n0"><circle cx="960" cy="260" r="7.6"/></g>
<g id="n1"><circle cx="960" cy="286" r="7.6"/></g>
<g id="n2"><circle cx="883" cy="311" r="7.6"/></g>
<g id="n3"><circle cx="960" cy="311" r="7.6"/></g>
<g id="n4"><circle cx="1051" cy="311" r="7.6"/></g>
<g id="n5"><circle cx="875" cy="336" r="7.6"/></g>
<g id="n6"><circle cx="937" cy="336" r="7.6"/></g>
<g id="n7"><circle cx="999" cy="336" r="7.6"/></g>
<g id="n8"><circle cx="937" cy="362" r="7.6"/></g>
<g id="n9"><circle cx="717" cy="387" r="7.6"/></g>
<g id="n10"><circle cx="543" cy="412" r="7.6"/></g>
<g id="n11"><circle cx="328" cy="438" r="7.6"/></g>
<g id="n12"><circle cx="999" cy="362" r="7.6"/></g>
<g id="n13"><circle cx="999" cy="387" r="7.6"/></g>
<g id="n14"><circle cx="999" cy="412" r="7.6"/></g>
<g id="n15"><circle cx="807" cy="438" r="7.6"/></g>
<g id="n16"><circle cx="1212" cy="438" r="7.6"/></g>
<g id="n17"><circle cx="266" cy="463" r="7.6"/></g>
<g id="n18"><circle cx="266" cy="488" r="7.6"/></g>
<g id="n19"><circle cx="328" cy="463" r="7.6"/></g>
<g id="n20"><circle cx="328" cy="488" r="7.6"/></g>
<g id="n21"><circle cx="266" cy="514" r="7.6"/></g>
<g id="n22"><circle cx="266" cy="539" r="7.6"/></g>
<g id="n23"><circle cx="235" cy="564" r="7.6"/></g>
<g id="n24"><circle cx="235" cy="589" r="7.6"/></g>
<g id="n25"><circle cx="174" cy="589" r="7.6"/></g>
<g id="n26"><circle cx="174" cy="615" r="7.6"/></g>
<g id="n27"><circle cx="174" cy="640" r="7.6"/></g>
<g id="n28"><circle cx="174" cy="665" r="7.6"/></g>
<g id="n29"><circle cx="174" cy="691" r="7.6"/></g>
<g id="n30"><circle cx="174" cy="716" r="7.6"/></g>
<g id="n31"><circle cx="174" cy="741" r="7.6"/></g>
<g id="n32"><circle cx="328" cy="514" r="7.6"/></g>
<g id="n33"><circle cx="328" cy="539" r="7.6"/></g>
<g id="n34"><circle cx="328" cy="564" r="7.6"/></g>
<g id="n35"><circle cx="298" cy="589" r="7.6"/></g>
<g id="n36"><circle cx="359" cy="589" r="7.6"/></g>
<g id="n37"><circle cx="298" cy="615" r="7.6"/></g>
<g id="n38"><circle cx="235" cy="615" r="7.6"/></g>
<g id="n39"><circle cx="359" cy="615" r="7.6"/></g>
<g id="n40"><circle cx="328" cy="640" r="7.6"/></g>
<g id="n41"><circle cx="266" cy="665" r="7.6"/></g>
<g id="n42"><circle cx="266" cy="691" r="7.6"/></g>
<g id="n43"><circle cx="266" cy="716" r="7.6"/></g>
<g id="n44"><circle cx="266" cy="741" r="7.6"/></g>
<g id="n45"><circle cx="266" cy="767" r="7.6"/></g>
<g id="n46"><circle cx="692" cy="463" r="7.6"/></g>
<g id="n47"><circle cx="629" cy="488" r="7.6"/></g>
<g id="n48"><circle cx="629" cy="514" r="7.6"/></g>
<g id="n49"><circle cx="552" cy="514" r="7.6"/></g>
<g id="n50"><circle cx="521" cy="539" r="7.6"/></g>
<g id="n51"><circle cx="505" cy="564" r="7.6"/></g>
<g id="n52"><circle cx="490" cy="589" r="7.6"/></g>
<g id="n53"><circle cx="444" cy="615" r="7.6"/></g>
<g id="n54"><circle cx="421" cy="640" r="7.6"/></g>
<g id="n55"><circle cx="328" cy="665" r="7.6"/></g>
<g id="n56"><circle cx="328" cy="691" r="7.6"/></g>
<g id="n57"><circle cx="328" cy="716" r="7.6"/></g>
<g id="n58"><circle cx="328" cy="741" r="7.6"/></g>
<g id="n59"><circle cx="328" cy="767" r="7.6"/></g>
<g id="n60"><circle cx="328" cy="792" r="7.6"/></g>
<g id="n61"><circle cx="328" cy="817" r="7.6"/></g>
<g id="n62"><circle cx="328" cy="843" r="7.6"/></g>
<g id="n63"><circle cx="328" cy="868" r="7.6"/></g>
<g id="n64"><circle cx="389" cy="665" r="7.6"/></g>
<g id="n65"><circle cx="389" cy="691" r="7.6"/></g>
<g id="n66"><circle cx="389" cy="716" r="7.6"/></g>
<g id="n67"><circle cx="389" cy="741" r="7.6"/></g>
<g id="n68"><circle cx="389" cy="767" r="7.6"/></g>
<g id="n69"><circle cx="389" cy="792" r="7.6"/></g>
<g id="n70"><circle cx="389" cy="817" r="7.6"/></g>
<g id="n71"><circle cx="452" cy="665" r="7.6"/></g>
<g id="n72"><circle cx="777" cy="463" r="7.6"/></g>
<g id="n73"><circle cx="837" cy="463" r="7.6"/></g>
<g id="n74"><circle cx="837" cy="488" r="7.6"/></g>
<g id="n75"><circle cx="698" cy="514" r="7.6"/></g>
<g id="n76"><circle cx="668" cy="539" r="7.6"/></g>
<g id="n77"><circle cx="637" cy="564" r="7.6"/></g>
<g id="n78"><circle cx="575" cy="589" r="7.6"/></g>
<g id="n79"><circle cx="637" cy="589" r="7.6"/></g>
<g id="n80"><circle cx="637" cy="615" r="7.6"/></g>
<g id="n81"><circle cx="637" cy="640" r="7.6"/></g>
<g id="n82"><circle cx="637" cy="665" r="7.6"/></g>
<g id="n83"><circle cx="637" cy="691" r="7.6"/></g>
<g id="n84"><circle cx="575" cy="691" r="7.6"/></g>
<g id="n85"><circle cx="575" cy="716" r="7.6"/></g>
<g id="n86"><circle cx="575" cy="741" r="7.6"/></g>
<g id="n87"><circle cx="575" cy="767" r="7.6"/></g>
<g id="n88"><circle cx="575" cy="792" r="7.6"/></g>
<g id="n89"><circle cx="575" cy="817" r="7.6"/></g>
<g id="n90"><circle cx="575" cy="843" r="7.6"/></g>
<g id="n91"><circle cx="575" cy="868" r="7.6"/></g>
<g id="n92"><circle cx="513" cy="741" r="7.6"/></g>
<g id="n93"><circle cx="513" cy="767" r="7.6"/></g>
<g id="n94"><circle cx="513" cy="792" r="7.6"/></g>
<g id="n95"><circle cx="452" cy="767" r="7.6"/></g>
<g id="n96"><circle cx="637" cy="716" r="7.6"/></g>
<g id="n97"><circle cx="637" cy="741" r="7.6"/></g>
<g id="n98"><circle cx="637" cy="767" r="7.6"/></g>
<g id="n99"><circle cx="637" cy="792" r="7.6"/></g>
<g id="n100"><circle cx="637" cy="817" r="7.6"/></g>
<g id="n101"><circle cx="637" cy="843" r="7.6"/></g>
<g id="n102"><circle cx="637" cy="868" r="7.6"/></g>
<g id="n103"><circle cx="637" cy="893" r="7.6"/></g>
<g id="n104"><circle cx="698" cy="868" r="7.6"/></g>
<g id="n105"><circle cx="698" cy="893" r="7.6"/></g>
<g id="n106"><circle cx="698" cy="919" r="7.6"/></g>
<g id="n107"><circle cx="837" cy="514" r="7.6"/></g>
<g id="n108"><circle cx="760" cy="539" r="7.6"/></g>
<g id="n109"><circle cx="853" cy="539" r="7.6"/></g>
<g id="n110"><circle cx="698" cy="564" r="7.6"/></g>
<g id="n111"><circle cx="698" cy="589" r="7.6"/></g>
<g id="n112"><circle cx="698" cy="615" r="7.6"/></g>
<g id="n113"><circle cx="698" cy="640" r="7.6"/></g>
<g id="n114"><circle cx="698" cy="665" r="7.6"/></g>
<g id="n115"><circle cx="698" cy="691" r="7.6"/></g>
<g id="n116"><circle cx="698" cy="716" r="7.6"/></g>
<g id="n117"><circle cx="698" cy="741" r="7.6"/></g>
<g id="n118"><circle cx="760" cy="564" r="7.6"/></g>
<g id="n119"><circle cx="760" cy="589" r="7.6"/></g>
<g id="n120"><circle cx="760" cy="615" r="7.6"/></g>
<g id="n121"><circle cx="760" cy="640" r="7.6"/></g>
<g id="n122"><circle cx="760" cy="665" r="7.6"/></g>
<g id="n123"><circle cx="760" cy="691" r="7.6"/></g>
<g id="n124"><circle cx="760" cy="716" r="7.6"/></g>
<g id="n125"><circle cx="760" cy="741" r="7.6"/></g>
<g id="n126"><circle cx="760" cy="767" r="7.6"/></g>
<g id="n127"><circle cx="760" cy="792" r="7.6"/></g>
<g id="n128"><circle cx="760" cy="817" r="7.6"/></g>
<g id="n129"><circle cx="760" cy="843" r="7.6"/></g>
<g id="n130"><circle cx="760" cy="868" r="7.6"/></g>
<g id="n131"><circle cx="760" cy="893" r="7.6"/></g>
<g id="n132"><circle cx="760" cy="919" r="7.6"/></g>
<g id="n133"><circle cx="760" cy="944" r="7.6"/></g>
<g id="n134"><circle cx="760" cy="969" r="7.6"/></g>
<g id="n135"><circle cx="760" cy="995" r="7.6"/></g>
<g id="n136"><circle cx="760" cy="1020" r="7.6"/></g>
<g id="n137"><circle cx="760" cy="1045" r="7.6"/></g>
<g id="n138"><circle cx="822" cy="868" r="7.6"/></g>
<g id="n139"><circle cx="729" cy="1071" r="7.6"/></g>
<g id="n140"><circle cx="729" cy="1096" r="7.6"/></g>
<g id="n141"><circle cx="791" cy="1071" r="7.6"/></g>
<g id="n142"><circle cx="791" cy="1096" r="7.6"/></g>
<g id="n143"><circle cx="822" cy="564" r="7.6"/></g>
<g id="n144"><circle cx="822" cy="589" r="7.6"/></g>
<g id="n145"><circle cx="883" cy="564" r="7.6"/></g>
<g id="n146"><circle cx="945" cy="564" r="7.6"/></g>
<g id="n147"><circle cx="938" cy="589" r="7.6"/></g>
<g id="n148"><circle cx="938" cy="615" r="7.6"/></g>
<g id="n149"><circle cx="930" cy="640" r="7.6"/></g>
<g id="n150"><circle cx="915" cy="665" r="7.6"/></g>
<g id="n151"><circle cx="915" cy="691" r="7.6"/></g>
<g id="n152"><circle cx="899" cy="716" r="7.6"/></g>
<g id="n153"><circle cx="822" cy="741" r="7.6"/></g>
<g id="n154"><circle cx="883" cy="741" r="7.6"/></g>
<g id="n155"><circle cx="883" cy="767" r="7.6"/></g>
<g id="n156"><circle cx="883" cy="792" r="7.6"/></g>
<g id="n157"><circle cx="883" cy="817" r="7.6"/></g>
<g id="n158"><circle cx="883" cy="843" r="7.6"/></g>
<g id="n159"><circle cx="945" cy="741" r="7.6"/></g>
<g id="n160"><circle cx="945" cy="767" r="7.6"/></g>
<g id="n161"><circle cx="945" cy="792" r="7.6"/></g>
<g id="n162"><circle cx="1084" cy="514" r="7.6"/></g>
<g id="n163"><circle cx="1084" cy="539" r="7.6"/></g>
<g id="n164"><circle cx="1169" cy="539" r="7.6"/></g>
<g id="n165"><circle cx="1069" cy="564" r="7.6"/></g>
<g id="n166"><circle cx="1131" cy="564" r="7.6"/></g>
<g id="n167"><circle cx="1069" cy="589" r="7.6"/></g>
<g id="n168"><circle cx="1069" cy="615" r="7.6"/></g>
<g id="n169"><circle cx="1069" cy="640" r="7.6"/></g>
<g id="n170"><circle cx="1069" cy="665" r="7.6"/></g>
<g id="n171"><circle cx="1069" cy="691" r="7.6"/></g>
<g id="n172"><circle cx="1099" cy="716" r="7.6"/></g>
<g id="n173"><circle cx="1131" cy="741" r="7.6"/></g>
<g id="n174"><circle cx="1007" cy="665" r="7.6"/></g>
<g id="n175"><circle cx="1007" cy="691" r="7.6"/></g>
<g id="n176"><circle cx="1007" cy="716" r="7.6"/></g>
<g id="n177"><circle cx="1007" cy="741" r="7.6"/></g>
<g id="n178"><circle cx="1007" cy="767" r="7.6"/></g>
<g id="n179"><circle cx="1069" cy="741" r="7.6"/></g>
<g id="n180"><circle cx="1069" cy="767" r="7.6"/></g>
<g id="n181"><circle cx="1131" cy="589" r="7.6"/></g>
<g id="n182"><circle cx="1131" cy="615" r="7.6"/></g>
<g id="n183"><circle cx="1131" cy="640" r="7.6"/></g>
<g id="n184"><circle cx="1131" cy="665" r="7.6"/></g>
<g id="n185"><circle cx="1162" cy="691" r="7.6"/></g>
<g id="n186"><circle cx="1177" cy="716" r="7.6"/></g>
<g id="n187"><circle cx="1192" cy="741" r="7.6"/></g>
<g id="n188"><circle cx="1192" cy="767" r="7.6"/></g>
<g id="n189"><circle cx="1192" cy="792" r="7.6"/></g>
<g id="n190"><circle cx="1192" cy="589" r="7.6"/></g>
<g id="n191"><circle cx="1192" cy="615" r="7.6"/></g>
<g id="n192"><circle cx="1192" cy="640" r="7.6"/></g>
<g id="n193"><circle cx="1192" cy="665" r="7.6"/></g>
<g id="n194"><circle cx="1192" cy="564" r="7.6"/></g>
<g id="n195"><circle cx="1254" cy="589" r="7.6"/></g>
<g id="n196"><circle cx="1316" cy="589" r="7.6"/></g>
<g id="n197"><circle cx="1316" cy="615" r="7.6"/></g>
<g id="n198"><circle cx="1316" cy="640" r="7.6"/></g>
<g id="n199"><circle cx="1254" cy="615" r="7.6"/></g>
<g id="n200"><circle cx="1254" cy="640" r="7.6"/></g>
<g id="n201"><circle cx="1316" cy="665" r="7.6"/></g>
<g id="n202"><circle cx="1254" cy="665" r="7.6"/></g>
<g id="n203"><circle cx="1254" cy="691" r="7.6"/></g>
<g id="n204"><circle cx="1254" cy="716" r="7.6"/></g>
<g id="n205"><circle cx="1254" cy="741" r="7.6"/></g>
<g id="n206"><circle cx="1254" cy="767" r="7.6"/></g>
<g id="n207"><circle cx="1254" cy="792" r="7.6"/></g>
<g id="n208"><circle cx="1254" cy="817" r="7.6"/></g>
<g id="n209"><circle cx="1254" cy="843" r="7.6"/></g>
<g id="n210"><circle cx="1192" cy="868" r="7.6"/></g>
<g id="n211"><circle cx="1254" cy="868" r="7.6"/></g>
<g id="n212"><circle cx="1316" cy="868" r="7.6"/></g>
<g id="n213"><circle cx="1316" cy="893" r="7.6"/></g>
<g id="n214"><circle cx="1254" cy="893" r="7.6"/></g>
<g id="n215"><circle cx="1254" cy="919" r="7.6"/></g>
<g id="n216"><circle cx="1254" cy="944" r="7.6"/></g>
<g id="n217"><circle cx="1254" cy="969" r="7.6"/></g>
<g id="n218"><circle cx="1254" cy="995" r="7.6"/></g>
<g id="n219"><circle cx="1254" cy="1020" r="7.6"/></g>
<g id="n220"><circle cx="1192" cy="893" r="7.6"/></g>
<g id="n221"><circle cx="1192" cy="919" r="7.6"/></g>
<g id="n222"><circle cx="1192" cy="944" r="7.6"/></g>
<g id="n223"><circle cx="1192" cy="969" r="7.6"/></g>
<g id="n224"><circle cx="1192" cy="995" r="7.6"/></g>
<g id="n225"><circle cx="1192" cy="1020" r="7.6"/></g>
<g id="n226"><circle cx="1192" cy="1045" r="7.6"/></g>
<g id="n227"><circle cx="1192" cy="1071" r="7.6"/></g>
<g id="n228"><circle cx="1192" cy="1096" r="7.6"/></g>
<g id="n229"><circle cx="1131" cy="995" r="7.6"/></g>
<g id="n230"><circle cx="1131" cy="1020" r="7.6"/></g>
<g id="n231"><circle cx="1131" cy="1045" r="7.6"/></g>
<g id="n232"><circle cx="1131" cy="1071" r="7.6"/></g>
<g id="n233"><circle cx="1131" cy="1096" r="7.6"/></g>
<g id="n234"><circle cx="1069" cy="1121" r="7.6"/></g>
<g id="n235"><circle cx="1131" cy="1121" r="7.6"/></g>
<g id="n236"><circle cx="1192" cy="1121" r="7.6"/></g>
<g id="n237"><circle cx="1192" cy="1147" r="7.6"/></g>
<g id="n238"><circle cx="1069" cy="1147" r="7.6"/></g>
<g id="n239"><circle cx="1069" cy="1172" r="7.6"/></g>
<g id="n240"><circle cx="1069" cy="1197" r="7.6"/></g>
<g id="n241"><circle cx="1069" cy="1223" r="7.6"/></g>
<g id="n242"><circle cx="1069" cy="1248" r="7.6"/></g>
<g id="n243"><circle cx="1069" cy="1273" r="7.6"/></g>
<g id="n244"><circle cx="1069" cy="1299" r="7.6"/></g>
<g id="n245"><circle cx="1069" cy="1324" r="7.6"/></g>
<g id="n246"><circle cx="1212" cy="463" r="7.6"/></g>
<g id="n247"><circle cx="1212" cy="488" r="7.6"/></g>
<g id="n248"><circle cx="1212" cy="514" r="7.6"/></g>
<g id="n249"><circle cx="1243" cy="539" r="7.6"/></g>
<g id="n250"><circle cx="1254" cy="564" r="7.6"/></g>
<g id="n251"><circle cx="1274" cy="463" r="7.6"/></g>
<g id="n252"><circle cx="1274" cy="488" r="7.6"/></g>
<g id="n253"><circle cx="1274" cy="514" r="7.6"/></g>
<g id="n254"><circle cx="1312" cy="539" r="7.6"/></g>
<g id="n255"><circle cx="1316" cy="564" r="7.6"/></g>
<g id="n256"><circle cx="1336" cy="488" r="7.6"/></g>
<g id="n257"><circle cx="1336" cy="514" r="7.6"/></g>
<g id="n258"><circle cx="1100" cy="336" r="7.6"/></g>
<g id="n259"><circle cx="1128" cy="362" r="7.6"/></g>
<g id="n260"><circle cx="1184" cy="387" r="7.6"/></g>
<g id="n261"><circle cx="1296" cy="412" r="7.6"/></g>
<g id="n262"><circle cx="1336" cy="438" r="7.6"/></g>
<g id="n263"><circle cx="1367" cy="463" r="7.6"/></g>
<g id="n264"><circle cx="1397" cy="488" r="7.6"/></g>
<g id="n265"><circle cx="1397" cy="514" r="7.6"/></g>
<g id="n266"><circle cx="1393" cy="539" r="7.6"/></g>
<g id="n267"><circle cx="1393" cy="564" r="7.6"/></g>
<g id="n268"><circle cx="1455" cy="539" r="7.6"/></g>
<g id="n269"><circle cx="1455" cy="564" r="7.6"/></g>
<g id="n270"><circle cx="1455" cy="589" r="7.6"/></g>
<g id="n271"><circle cx="939" cy="1349" r="7.6"/></g>
<g id="n272"><circle cx="1069" cy="1349" r="7.6"/></g>
<g id="n273"><circle cx="1069" cy="1375" r="7.6"/></g>
<g id="n274"><circle cx="1131" cy="1349" r="7.6"/></g>
<g id="n275"><circle cx="1131" cy="1375" r="7.6"/></g>
<g id="n276"><circle cx="1131" cy="1400" r="7.6"/></g>
<g id="n277"><circle cx="939" cy="1375" r="7.6"/></g>
<g id="n278"><circle cx="939" cy="1400" r="7.6"/></g>
<g id="n279"><circle cx="939" cy="1425" r="7.6"/></g>
<g id="n280"><circle cx="869" cy="1400" r="7.6"/></g>
<g id="n281"><circle cx="838" cy="1425" r="7.6"/></g>
<g id="n282"><circle cx="823" cy="1451" r="7.6"/></g>
<g id="n283"><circle cx="823" cy="1476" r="7.6"/></g>
<g id="n284"><circle cx="823" cy="1501" r="7.6"/></g>
<g id="n285"><circle cx="823" cy="1527" r="7.6"/></g>
<g id="n286"><circle cx="823" cy="1552" r="7.6"/></g>
<g id="n287"><circle cx="823" cy="1577" r="7.6"/></g>
<g id="n288"><circle cx="884" cy="1451" r="7.6"/></g>
<g id="n289"><circle cx="884" cy="1476" r="7.6"/></g>
<g id="n290"><circle cx="884" cy="1501" r="7.6"/></g>
<g id="n291"><circle cx="946" cy="1451" r="7.6"/></g>
<g id="n292"><circle cx="946" cy="1476" r="7.6"/></g>
<g id="n293"><circle cx="946" cy="1501" r="7.6"/></g>
<g id="n294"><circle cx="1008" cy="1501" r="7.6"/></g>
<g id="n295"><circle cx="916" cy="1527" r="7.6"/></g>
<g id="n296"><circle cx="916" cy="1552" r="7.6"/></g>
<g id="n297"><circle cx="916" cy="1577" r="7.6"/></g>
<g id="n298"><circle cx="916" cy="1602" r="7.6"/></g>
<g id="n299"><circle cx="823" cy="1602" r="7.6"/></g>
<g id="n300"><circle cx="807" cy="1628" r="7.6"/></g>
<g id="n301"><circle cx="800" cy="1653" r="7.6"/></g>
<g id="n302"><circle cx="896" cy="1628" r="7.6"/></g>
<g id="n303"><circle cx="862" cy="1653" r="7.6"/></g>
<g id="n304"><circle cx="862" cy="1678" r="7.6"/></g>
<g id="n305"><circle cx="980" cy="1628" r="7.6"/></g>
<g id="n306"><circle cx="924" cy="1653" r="7.6"/></g>
<g id="n307"><circle cx="924" cy="1678" r="7.6"/></g>
<g id="n308"><circle cx="985" cy="1653" r="7.6"/></g>
<g id="n309"><circle cx="1047" cy="1653" r="7.6"/></g>
<g id="n310"><circle cx="977" cy="1527" r="7.6"/></g>
<g id="n311"><circle cx="1038" cy="1527" r="7.6"/></g>
<g id="n312"><circle cx="1101" cy="1425" r="7.6"/></g>
<g id="n313"><circle cx="1101" cy="1451" r="7.6"/></g>
<g id="n314"><circle cx="1101" cy="1476" r="7.6"/></g>
<g id="n315"><circle cx="1101" cy="1501" r="7.6"/></g>
<g id="n316"><circle cx="1101" cy="1527" r="7.6"/></g>
<g id="n317"><circle cx="1162" cy="1425" r="7.6"/></g>
<g id="n318"><circle cx="1162" cy="1451" r="7.6"/></g>
<g id="n319"><circle cx="1162" cy="1476" r="7.6"/></g>
<g id="n320"><circle cx="1162" cy="1501" r="7.6"/></g>
<g id="n321"><circle cx="1162" cy="1527" r="7.6"/></g>
<g id="n322"><circle cx="1167" cy="1552" r="7.6"/></g>
<g id="n323"><circle cx="1224" cy="1425" r="7.6"/></g>
<g id="n324"><circle cx="1224" cy="1451" r="7.6"/></g>
<g id="n325"><circle cx="1224" cy="1476" r="7.6"/></g>
<g id="n326"><circle cx="1285" cy="1476" r="7.6"/></g>
<g id="n327"><circle cx="1285" cy="1501" r="7.6"/></g>
<g id="n328"><circle cx="1105" cy="1552" r="7.6"/></g>
<g id="n329"><circle cx="1105" cy="1577" r="7.6"/></g>
<g id="n330"><circle cx="1105" cy="1602" r="7.6"/></g>
<g id="n331"><circle cx="1167" cy="1602" r="7.6"/></g>
<g id="n332"><circle cx="1167" cy="1628" r="7.6"/></g>
<g id="n333"><circle cx="1197" cy="1577" r="7.6"/></g>
<g id="n334"><circle cx="1229" cy="1602" r="7.6"/></g>
<g id="n335"><circle cx="1043" cy="1552" r="7.6"/></g>
<g id="n336"><circle cx="1043" cy="1577" r="7.6"/></g>
<g id="n337"><circle cx="1043" cy="1602" r="7.6"/></g>
<g id="n338"><circle cx="981" cy="1602" r="7.6"/></g>
<g id="n339"><circle cx="1053" cy="1628" r="7.6"/></g>
<g id="n340"><circle cx="1108" cy="1653" r="7.6"/></g>
<g id="n341"><circle cx="1108" cy="1678" r="7.6"/></g>
<g id="n342"><circle cx="1108" cy="1704" r="7.6"/></g>
<g id="n343"><circle cx="1079" cy="1729" r="7.6"/></g>
<g id="n344"><circle cx="1079" cy="1754" r="7.6"/></g>
<g id="n345"><circle cx="1079" cy="1780" r="7.6"/></g>
<g id="n346"><circle cx="1079" cy="1805" r="7.6"/></g>
<g id="n347"><circle cx="1140" cy="1729" r="7.6"/></g>
<g id="n348"><circle cx="1140" cy="1754" r="7.6"/></g>
<g id="n349"><circle cx="1140" cy="1780" r="7.6"/></g>
<g id="n350"><circle cx="1201" cy="1780" r="7.6"/></g>
<g id="n351"><circle cx="1201" cy="1805" r="7.6"/></g>
<g id="n352"><circle cx="1116" cy="1830" r="7.6"/></g>
<g id="n353"><circle cx="1100" cy="1856" r="7.6"/></g>
<g id="n354"><circle cx="1070" cy="1881" r="7.6"/></g>
<g id="n355"><circle cx="901" cy="1906" r="7.6"/></g>
<g id="n356"><circle cx="869" cy="1931" r="7.6"/></g>
<g id="n357"><circle cx="684" cy="1956" r="7.6"/></g>
<g id="n358"><circle cx="592" cy="1982" r="7.6"/></g>
<g id="n359"><circle cx="653" cy="1982" r="7.6"/></g>
<g id="n360"><circle cx="653" cy="2007" r="7.6"/></g>
<g id="n361"><circle cx="653" cy="2032" r="7.6"/></g>
<g id="n362"><circle cx="653" cy="2057" r="7.6"/></g>
<g id="n363"><circle cx="653" cy="2083" r="7.6"/></g>
<g id="n364"><circle cx="716" cy="1982" r="7.6"/></g>
<g id="n365"><circle cx="716" cy="2007" r="7.6"/></g>
<g id="n366"><circle cx="716" cy="2032" r="7.6"/></g>
<g id="n367"><circle cx="716" cy="2057" r="7.6"/></g>
<g id="n368"><circle cx="716" cy="2083" r="7.6"/></g>
<g id="n369"><circle cx="777" cy="2032" r="7.6"/></g>
<g id="n370"><circle cx="777" cy="2057" r="7.6"/></g>
<g id="n371"><circle cx="777" cy="2083" r="7.6"/></g>
<g id="n372"><circle cx="777" cy="2108" r="7.6"/></g>
<g id="n373"><circle cx="777" cy="2133" r="7.6"/></g>
<g id="n374"><circle cx="1201" cy="1830" r="7.6"/></g>
<g id="n375"><circle cx="1201" cy="1856" r="7.6"/></g>
<g id="n376"><circle cx="1147" cy="1881" r="7.6"/></g>
<g id="n377"><circle cx="1147" cy="1906" r="7.6"/></g>
<g id="n378"><circle cx="1147" cy="1931" r="7.6"/></g>
<g id="n379"><circle cx="1147" cy="1956" r="7.6"/></g>
<g id="n380"><circle cx="1209" cy="1881" r="7.6"/></g>
<g id="n381"><circle cx="1209" cy="1906" r="7.6"/></g>
<g id="n382"><circle cx="1209" cy="1931" r="7.6"/></g>
<g id="n383"><circle cx="1209" cy="1956" r="7.6"/></g>
<g id="n384"><circle cx="1085" cy="1931" r="7.6"/></g>
<g id="n385"><circle cx="1085" cy="1956" r="7.6"/></g>
<g id="n386"><circle cx="1085" cy="1982" r="7.6"/></g>
<g id="n387"><circle cx="1085" cy="2007" r="7.6"/></g>
<g id="n388"><circle cx="1085" cy="2032" r="7.6"/></g>
<g id="n389"><circle cx="993" cy="1956" r="7.6"/></g>
<g id="n390"><circle cx="1023" cy="1982" r="7.6"/></g>
<g id="n391"><circle cx="1023" cy="2007" r="7.6"/></g>
<g id="n392"><circle cx="1023" cy="2032" r="7.6"/></g>
<g id="n393"><circle cx="1023" cy="2057" r="7.6"/></g>
<g id="n394"><circle cx="1023" cy="2083" r="7.6"/></g>
<g id="n395"><circle cx="1147" cy="1982" r="7.6"/></g>
<g id="n396"><circle cx="1147" cy="2007" r="7.6"/></g>
<g id="n397"><circle cx="963" cy="1982" r="7.6"/></g>
<g id="n398"><circle cx="963" cy="2007" r="7.6"/></g>
<g id="n399"><circle cx="963" cy="2032" r="7.6"/></g>
<g id="n400"><circle cx="901" cy="2007" r="7.6"/></g>
<g id="n401"><circle cx="901" cy="2032" r="7.6"/></g>
<g id="n402"><circle cx="901" cy="2057" r="7.6"/></g>
<g id="n403"><circle cx="901" cy="2083" r="7.6"/></g>
<g id="n404"><circle cx="901" cy="2108" r="7.6"/></g>
<g id="n405"><circle cx="901" cy="2133" r="7.6"/></g>
<g id="n406"><circle cx="901" cy="2158" r="7.6"/></g>
<g id="n407"><circle cx="901" cy="2184" r="7.6"/></g>
<g id="n408"><circle cx="838" cy="2032" r="7.6"/></g>
<g id="n409"><circle cx="838" cy="2057" r="7.6"/></g>
<g id="n410"><circle cx="838" cy="2083" r="7.6"/></g>
<g id="n411"><circle cx="838" cy="2108" r="7.6"/></g>
<g id="n412"><circle cx="838" cy="2133" r="7.6"/></g>
<g id="n413"><circle cx="963" cy="2057" r="7.6"/></g>
<g id="n414"><circle cx="963" cy="2083" r="7.6"/></g>
<g id="n415"><circle cx="992" cy="2108" r="7.6"/></g>
<g id="n416"><circle cx="1023" cy="2133" r="7.6"/></g>
<g id="n417"><circle cx="1023" cy="2158" r="7.6"/></g>
<g id="n418"><circle cx="1023" cy="2184" r="7.6"/></g>
<g id="n419"><circle cx="1023" cy="2209" r="7.6"/></g>
<g id="n420"><circle cx="1023" cy="2234" r="7.6"/></g>
<g id="n421"><circle cx="1023" cy="2259" r="7.6"/></g>
<g id="n422"><circle cx="1023" cy="2285" r="7.6"/></g>
<g id="n423"><circle cx="1023" cy="2310" r="7.6"/></g>
<g id="n424"><circle cx="1023" cy="2335" r="7.6"/></g>
<g id="n425"><circle cx="1023" cy="2360" r="7.6"/></g>
<g id="n426"><circle cx="1023" cy="2386" r="7.6"/></g>
<g id="n427"><circle cx="1023" cy="2411" r="7.6"/></g>
<g id="n428"><circle cx="1023" cy="2436" r="7.6"/></g>
<g id="n429"><circle cx="1023" cy="2461" r="7.6"/></g>
<g id="n430"><circle cx="963" cy="2133" r="7.6"/></g>
<g id="n431"><circle cx="963" cy="2158" r="7.6"/></g>
<g id="n432"><circle cx="838" cy="2158" r="7.6"/></g>
<g id="n433"><circle cx="838" cy="2184" r="7.6"/></g>
<g id="n434"><circle cx="838" cy="2209" r="7.6"/></g>
<g id="n435"><circle cx="838" cy="2234" r="7.6"/></g>
<g id="n436"><circle cx="838" cy="2259" r="7.6"/></g>
<g id="n437"><circle cx="838" cy="2285" r="7.6"/></g>
<g id="n438"><circle cx="838" cy="2310" r="7.6"/></g>
<g id="n439"><circle cx="838" cy="2335" r="7.6"/></g>
<g id="n440"><circle cx="838" cy="2360" r="7.6"/></g>
<g id="n441"><circle cx="838" cy="2386" r="7.6"/></g>
<g id="n442"><circle cx="762" cy="2158" r="7.6"/></g>
<g id="n443"><circle cx="762" cy="2184" r="7.6"/></g>
<g id="n444"><circle cx="901" cy="2209" r="7.6"/></g>
<g id="n445"><circle cx="901" cy="2234" r="7.6"/></g>
<g id="n446"><circle cx="963" cy="2209" r="7.6"/></g>
<g id="n447"><circle cx="963" cy="2234" r="7.6"/></g>
<g id="n448"><circle cx="669" cy="2158" r="7.6"/></g>
<g id="n449"><circle cx="607" cy="2184" r="7.6"/></g>
<g id="n450"><circle cx="592" cy="2209" r="7.6"/></g>
<g id="n451"><circle cx="592" cy="2234" r="7.6"/></g>
<g id="n452"><circle cx="592" cy="2259" r="7.6"/></g>
<g id="n453"><circle cx="592" cy="2285" r="7.6"/></g>
<g id="n454"><circle cx="592" cy="2310" r="7.6"/></g>
<g id="n455"><circle cx="592" cy="2335" r="7.6"/></g>
<g id="n456"><circle cx="592" cy="2360" r="7.6"/></g>
<g id="n457"><circle cx="529" cy="2259" r="7.6"/></g>
<g id="n458"><circle cx="529" cy="2285" r="7.6"/></g>
<g id="n459"><circle cx="529" cy="2310" r="7.6"/></g>
<g id="n460"><circle cx="529" cy="2335" r="7.6"/></g>
<g id="n461"><circle cx="529" cy="2360" r="7.6"/></g>
<g id="n462"><circle cx="529" cy="2386" r="7.6"/></g>
<g id="n463"><circle cx="529" cy="2411" r="7.6"/></g>
<g id="n464"><circle cx="529" cy="2436" r="7.6"/></g>
<g id="n465"><circle cx="529" cy="2461" r="7.6"/></g>
<g id="n466"><circle cx="468" cy="2285" r="7.6"/></g>
<g id="n467"><circle cx="468" cy="2310" r="7.6"/></g>
<g id="n468"><circle cx="653" cy="2209" r="7.6"/></g>
<g id="n469"><circle cx="653" cy="2234" r="7.6"/></g>
<g id="n470"><circle cx="716" cy="2209" r="7.6"/></g>
<g id="n471"><circle cx="716" cy="2234" r="7.6"/></g>
<g id="n472"><circle cx="716" cy="2259" r="7.6"/></g>
<g id="n473"><circle cx="716" cy="2285" r="7.6"/></g>
<g id="n474"><circle cx="716" cy="2310" r="7.6"/></g>
<g id="n475"><circle cx="716" cy="2335" r="7.6"/></g>
<g id="n476"><circle cx="716" cy="2360" r="7.6"/></g>
<g id="n477"><circle cx="716" cy="2386" r="7.6"/></g>
<g id="n478"><circle cx="716" cy="2411" r="7.6"/></g>
<g id="n479"><circle cx="777" cy="2209" r="7.6"/></g>
<g id="n480"><circle cx="653" cy="2335" r="7.6"/></g>
<g id="n481"><circle cx="653" cy="2360" r="7.6"/></g>
<g id="n482"><circle cx="653" cy="2386" r="7.6"/></g>
<g id="n483"><circle cx="653" cy="2411" r="7.6"/></g>
<g id="n484"><circle cx="653" cy="2436" r="7.6"/></g>
<g id="n485"><circle cx="622" cy="2461" r="7.6"/></g>
<g id="n486"><circle cx="684" cy="2461" r="7.6"/></g>
<g id="n487"><circle cx="561" cy="2487" r="7.6"/></g>
<g id="n488"><circle cx="622" cy="2487" r="7.6"/></g>
<g id="n489"><circle cx="684" cy="2487" r="7.6"/></g>
<g id="n490"><circle cx="684" cy="2512" r="7.6"/></g>
<g id="n491"><circle cx="684" cy="2537" r="7.6"/></g>
<g id="n492"><circle cx="684" cy="2562" r="7.6"/></g>
<g id="n493"><circle cx="491" cy="2512" r="7.6"/></g>
<g id="n494"><circle cx="576" cy="2512" r="7.6"/></g>
<g id="n495"><circle cx="592" cy="2537" r="7.6"/></g>
<g id="n496"><circle cx="407" cy="2537" r="7.6"/></g>
<g id="n497"><circle cx="407" cy="2562" r="7.6"/></g>
<g id="n498"><circle cx="407" cy="2587" r="7.6"/></g>
<g id="n499"><circle cx="407" cy="2613" r="7.6"/></g>
<g id="n500"><circle cx="407" cy="2638" r="7.6"/></g>
<g id="n501"><circle cx="407" cy="2663" r="7.6"/></g>
<g id="n502"><circle cx="468" cy="2537" r="7.6"/></g>
<g id="n503"><circle cx="468" cy="2562" r="7.6"/></g>
<g id="n504"><circle cx="468" cy="2587" r="7.6"/></g>
<g id="n505"><circle cx="468" cy="2613" r="7.6"/></g>
<g id="n506"><circle cx="530" cy="2537" r="7.6"/></g>
<g id="n507"><circle cx="530" cy="2562" r="7.6"/></g>
<g id="n508"><circle cx="345" cy="2613" r="7.6"/></g>
<g id="n509"><circle cx="345" cy="2638" r="7.6"/></g>
<g id="n510"><circle cx="345" cy="2663" r="7.6"/></g>
<g id="n511"><circle cx="345" cy="2688" r="7.6"/></g>
<g id="n512"><circle cx="468" cy="2663" r="7.6"/></g>
<g id="n513"><circle cx="468" cy="2688" r="7.6"/></g>
<g id="n514"><circle cx="468" cy="2714" r="7.6"/></g>
<g id="n515"><circle cx="808" cy="2411" r="7.6"/></g>
<g id="n516"><circle cx="869" cy="2411" r="7.6"/></g>
<g id="n517"><circle cx="993" cy="2487" r="7.6"/></g>
<g id="n518"><circle cx="1055" cy="2487" r="7.6"/></g>
<g id="n519"><circle cx="1055" cy="2512" r="7.6"/></g>
<g id="n520"><circle cx="1055" cy="2537" r="7.6"/></g>
<g id="n521"><circle cx="1055" cy="2562" r="7.6"/></g>
<g id="n522"><circle cx="1085" cy="2184" r="7.6"/></g>
<g id="n523"><circle cx="1085" cy="2209" r="7.6"/></g>
<g id="n524"><circle cx="1085" cy="2234" r="7.6"/></g>
<g id="n525"><circle cx="1085" cy="2259" r="7.6"/></g>
<g id="n526"><circle cx="1085" cy="2285" r="7.6"/></g>
<g id="n527"><circle cx="1147" cy="2310" r="7.6"/></g>
<g id="n528"><circle cx="1147" cy="2335" r="7.6"/></g>
<g id="n529"><circle cx="1147" cy="2360" r="7.6"/></g>
<g id="n530"><circle cx="1147" cy="2386" r="7.6"/></g>
<g id="n531"><circle cx="1209" cy="1982" r="7.6"/></g>
<g id="n532"><circle cx="1209" cy="2007" r="7.6"/></g>
<g id="n533"><circle cx="1209" cy="2032" r="7.6"/></g>
<g id="n534"><circle cx="1209" cy="2057" r="7.6"/></g>
<g id="n535"><circle cx="1209" cy="2083" r="7.6"/></g>
<g id="n536"><circle cx="1209" cy="2108" r="7.6"/></g>
<g id="n537"><circle cx="1209" cy="2133" r="7.6"/></g>
<g id="n538"><circle cx="1209" cy="2158" r="7.6"/></g>
<g id="n539"><circle cx="1209" cy="2184" r="7.6"/></g>
<g id="n540"><circle cx="1209" cy="2209" r="7.6"/></g>
<g id="n541"><circle cx="1209" cy="2234" r="7.6"/></g>
<g id="n542"><circle cx="1209" cy="2259" r="7.6"/></g>
<g id="n543"><circle cx="1209" cy="2285" r="7.6"/></g>
<g id="n544"><circle cx="1209" cy="2310" r="7.6"/></g>
<g id="n545"><circle cx="1209" cy="2335" r="7.6"/></g>
<g id="n546"><circle cx="1209" cy="2360" r="7.6"/></g>
<g id="n547"><circle cx="1272" cy="2158" r="7.6"/></g>
<g id="n548"><circle cx="1272" cy="2184" r="7.6"/></g>
<g id="n549"><circle cx="1272" cy="2209" r="7.6"/></g>
<g id="n550"><circle cx="1272" cy="2259" r="7.6"/></g>
<g id="n551"><circle cx="1272" cy="2285" r="7.6"/></g>
<g id="n552"><circle cx="1333" cy="2285" r="7.6"/></g>
<g id="n553"><circle cx="1333" cy="2310" r="7.6"/></g>
<g id="n554"><circle cx="1333" cy="2335" r="7.6"/></g>
<g id="n555"><circle cx="1333" cy="2360" r="7.6"/></g>
<g id="n556"><circle cx="1272" cy="2335" r="7.6"/></g>
<g id="n557"><circle cx="1272" cy="2360" r="7.6"/></g>
<g id="n558"><circle cx="1272" cy="2386" r="7.6"/></g>
<g id="n559"><circle cx="1272" cy="2411" r="7.6"/></g>
<g id="n560"><circle cx="1272" cy="2436" r="7.6"/></g>
<g id="n561"><circle cx="1333" cy="1830" r="7.6"/></g>
<g id="n562"><circle cx="1333" cy="1856" r="7.6"/></g>
<g id="n563"><circle cx="1333" cy="1881" r="7.6"/></g>
<g id="n564"><circle cx="1272" cy="1881" r="7.6"/></g>
<g id="n565"><circle cx="1272" cy="1906" r="7.6"/></g>
<g id="n566"><circle cx="1272" cy="1931" r="7.6"/></g>
<g id="n567"><circle cx="1425" cy="1856" r="7.6"/></g>
<g id="n568"><circle cx="1394" cy="1881" r="7.6"/></g>
<g id="n569"><circle cx="1394" cy="1906" r="7.6"/></g>
<g id="n570"><circle cx="1394" cy="1931" r="7.6"/></g>
<g id="n571"><circle cx="1394" cy="1956" r="7.6"/></g>
<g id="n572"><circle cx="1456" cy="1881" r="7.6"/></g>
<g id="n573"><circle cx="1456" cy="1906" r="7.6"/></g>
<g id="n574"><circle cx="1456" cy="1931" r="7.6"/></g>
<g id="n575"><circle cx="1456" cy="1956" r="7.6"/></g>
<g id="n576"><circle cx="1456" cy="1982" r="7.6"/></g>
<g id="n577"><circle cx="1456" cy="2007" r="7.6"/></g>
<g id="n578"><circle cx="1456" cy="2032" r="7.6"/></g>
<g id="n579"><circle cx="1548" cy="1956" r="7.6"/></g>
<g id="n580"><circle cx="1518" cy="1982" r="7.6"/></g>
<g id="n581"><circle cx="1518" cy="2007" r="7.6"/></g>
<g id="n582"><circle cx="1518" cy="2032" r="7.6"/></g>
<g id="n583"><circle cx="1579" cy="1982" r="7.6"/></g>
<g id="n584"><circle cx="1579" cy="2007" r="7.6"/></g>
<g id="n585"><circle cx="1579" cy="2032" r="7.6"/></g>
<g id="n586"><circle cx="1579" cy="2057" r="7.6"/></g>
<g id="n587"><circle cx="1579" cy="2083" r="7.6"/></g>
<g id="n588"><circle cx="1579" cy="2108" r="7.6"/></g>
<g id="n589"><circle cx="1579" cy="2133" r="7.6"/></g>
<g id="n590"><circle cx="1641" cy="1982" r="7.6"/></g>
<g id="n591"><circle cx="1641" cy="2007" r="7.6"/></g>
<g id="n592"><circle cx="1641" cy="2032" r="7.6"/></g>
<g id="n593"><circle cx="1641" cy="2057" r="7.6"/></g>
<g id="n594"><circle cx="1641" cy="2083" r="7.6"/></g>
<g id="n595"><circle cx="1641" cy="2108" r="7.6"/></g>
<g id="n596"><circle cx="1641" cy="2133" r="7.6"/></g>
<g id="n597"><circle cx="1641" cy="2158" r="7.6"/></g>
<g id="n598"><circle cx="1641" cy="2184" r="7.6"/></g>
<g id="n599"><circle cx="1733" cy="2158" r="7.6"/></g>
<g id="n600"><circle cx="1703" cy="2184" r="7.6"/></g>
<g id="n601"><circle cx="1703" cy="2209" r="7.6"/></g>
<g id="n602"><circle cx="1765" cy="2184" r="7.6"/></g>
<g id="n603"><circle cx="1765" cy="2209" r="7.6"/></g>
<g id="n604"><circle cx="1765" cy="2234" r="7.6"/></g>
<g id="n605"><circle cx="1765" cy="2259" r="7.6"/></g>
<g id="n606"><circle cx="1765" cy="2285" r="7.6"/></g>
<g id="n607"><circle cx="1765" cy="2310" r="7.6"/></g>
<g id="n608"><circle cx="1827" cy="2184" r="7.6"/></g>
<g id="n609"><circle cx="1827" cy="2209" r="7.6"/></g>
<g id="n610"><circle cx="1827" cy="2234" r="7.6"/></g>
<g id="n611"><circle cx="1641" cy="2209" r="7.6"/></g>
<g id="n612"><circle cx="1641" cy="2234" r="7.6"/></g>
<g id="n613"><circle cx="1641" cy="2259" r="7.6"/></g>
<g id="n614"><circle cx="1641" cy="2285" r="7.6"/></g>
<g id="n615"><circle cx="1703" cy="2259" r="7.6"/></g>
<g id="n616"><circle cx="1703" cy="2285" r="7.6"/></g>
<g id="n617"><circle cx="1703" cy="2310" r="7.6"/></g>
<g id="n618"><circle cx="1703" cy="2335" r="7.6"/></g>
<g id="n619"><circle cx="1579" cy="2285" r="7.6"/></g>
<g id="n620"><circle cx="1579" cy="2310" r="7.6"/></g>
<g id="n621"><circle cx="1579" cy="2335" r="7.6"/></g>
<g id="n622"><circle cx="1579" cy="2360" r="7.6"/></g>
<g id="n623"><circle cx="1579" cy="2386" r="7.6"/></g>
<g id="n624"><circle cx="1579" cy="2411" r="7.6"/></g>
<g id="n625"><circle cx="1579" cy="2436" r="7.6"/></g>
<g id="n626"><circle cx="1827" cy="2285" r="7.6"/></g>
<g id="n627"><circle cx="1827" cy="2310" r="7.6"/></g>
<g id="n628"><circle cx="1827" cy="2335" r="7.6"/></g>
<g id="n629"><circle cx="1827" cy="2360" r="7.6"/></g>
<g id="n630"><circle cx="1827" cy="2386" r="7.6"/></g>
<g id="n631"><circle cx="1641" cy="2310" r="7.6"/></g>
<g id="n632"><circle cx="1641" cy="2335" r="7.6"/></g>
<g id="n633"><circle cx="1641" cy="2360" r="7.6"/></g>
<g id="n634"><circle cx="1641" cy="2386" r="7.6"/></g>
<g id="n635"><circle cx="1641" cy="2411" r="7.6"/></g>
<g id="n636"><circle cx="1641" cy="2436" r="7.6"/></g>
<g id="n637"><circle cx="1703" cy="2360" r="7.6"/></g>
<g id="n638"><circle cx="1703" cy="2386" r="7.6"/></g>
<g id="n639"><circle cx="1703" cy="2411" r="7.6"/></g>
<g id="n640"><circle cx="1703" cy="2436" r="7.6"/></g>
<g id="n641"><circle cx="1765" cy="2436" r="7.6"/></g>
<g id="n642"><circle cx="1765" cy="2461" r="7.6"/></g>
<g id="n643"><circle cx="1765" cy="2487" r="7.6"/></g>
<g id="n644"><circle cx="1518" cy="2360" r="7.6"/></g>
<g id="n645"><circle cx="1518" cy="2386" r="7.6"/></g>
<g id="n646"><circle cx="1518" cy="2411" r="7.6"/></g>
<g id="n647"><circle cx="1394" cy="2335" r="7.6"/></g>
<g id="n648"><circle cx="1394" cy="2360" r="7.6"/></g>
<g id="n649"><circle cx="1394" cy="2386" r="7.6"/></g>
<g id="n650"><circle cx="1394" cy="2411" r="7.6"/></g>
<g id="n651"><circle cx="1394" cy="2436" r="7.6"/></g>
<g id="n652"><circle cx="1394" cy="2461" r="7.6"/></g>
<g id="n653"><circle cx="1456" cy="2411" r="7.6"/></g>
<g id="n654"><circle cx="1518" cy="2436" r="7.6"/></g>
<g id="n655"><circle cx="1456" cy="2436" r="7.6"/></g>
<g id="n656"><circle cx="1456" cy="2461" r="7.6"/></g>
<g id="n657"><circle cx="1456" cy="2487" r="7.6"/></g>
<g id="n658"><circle cx="1456" cy="2512" r="7.6"/></g>
<g id="n659"><circle cx="1456" cy="2537" r="7.6"/></g>
<g id="n660"><circle cx="1518" cy="2461" r="7.6"/></g>
<g id="n661"><circle cx="1518" cy="2487" r="7.6"/></g>
<g id="n662"><circle cx="1333" cy="2436" r="7.6"/></g>
<g id="n663"><circle cx="1333" cy="2461" r="7.6"/></g>
<g id="n664"><circle cx="1333" cy="2487" r="7.6"/></g>
<g id="n665"><circle cx="1328" cy="2512" r="7.6"/></g>
<g id="n666"><circle cx="1327" cy="2537" r="7.6"/></g>
<g id="n667"><circle cx="1327" cy="2562" r="7.6"/></g>
<g id="n668"><circle cx="1327" cy="2587" r="7.6"/></g>
<g id="n669"><circle cx="1318" cy="2613" r="7.6"/></g>
<g id="n670"><circle cx="1303" cy="2638" r="7.6"/></g>
<g id="n671"><circle cx="1303" cy="2663" r="7.6"/></g>
<g id="n672"><circle cx="1303" cy="2688" r="7.6"/></g>
<g id="n673"><circle cx="1303" cy="2714" r="7.6"/></g>
<g id="n674"><circle cx="1427" cy="2562" r="7.6"/></g>
<g id="n675"><circle cx="1427" cy="2587" r="7.6"/></g>
<g id="n676"><circle cx="1427" cy="2613" r="7.6"/></g>
<g id="n677"><circle cx="1427" cy="2638" r="7.6"/></g>
<g id="n678"><circle cx="1364" cy="2638" r="7.6"/></g>
<g id="n679"><circle cx="1364" cy="2663" r="7.6"/></g>
<g id="n680"><circle cx="1364" cy="2688" r="7.6"/></g>
<g id="n681"><circle cx="1364" cy="2714" r="7.6"/></g>
<g id="n682"><circle cx="1427" cy="2714" r="7.6"/></g>
<g id="n683"><circle cx="1395" cy="2739" r="7.6"/></g>
<g id="n684"><circle cx="1333" cy="2739" r="7.6"/></g>
<g id="n685"><circle cx="1488" cy="2562" r="7.6"/></g>
<g id="n686"><circle cx="1488" cy="2587" r="7.6"/></g>
<g id="n687"><circle cx="1488" cy="2613" r="7.6"/></g>
<g id="n688"><circle cx="1488" cy="2638" r="7.6"/></g>
<g id="n689"><circle cx="1488" cy="2663" r="7.6"/></g>
<g id="n690"><circle cx="1550" cy="2613" r="7.6"/></g>
<g id="n691"><circle cx="1565" cy="2562" r="7.6"/></g>
<g id="n692"><circle cx="1580" cy="2587" r="7.6"/></g>
<g id="n693"><circle cx="1611" cy="2613" r="7.6"/></g>
<g id="n694"><circle cx="1611" cy="2638" r="7.6"/></g>
<g id="n695"><circle cx="1611" cy="2663" r="7.6"/></g>
<g id="n696"><circle cx="1611" cy="2688" r="7.6"/></g>
<g id="n697"><circle cx="1550" cy="2663" r="7.6"/></g>
<g id="n698"><circle cx="1673" cy="2663" r="7.6"/></g>
</g>
</svg>
